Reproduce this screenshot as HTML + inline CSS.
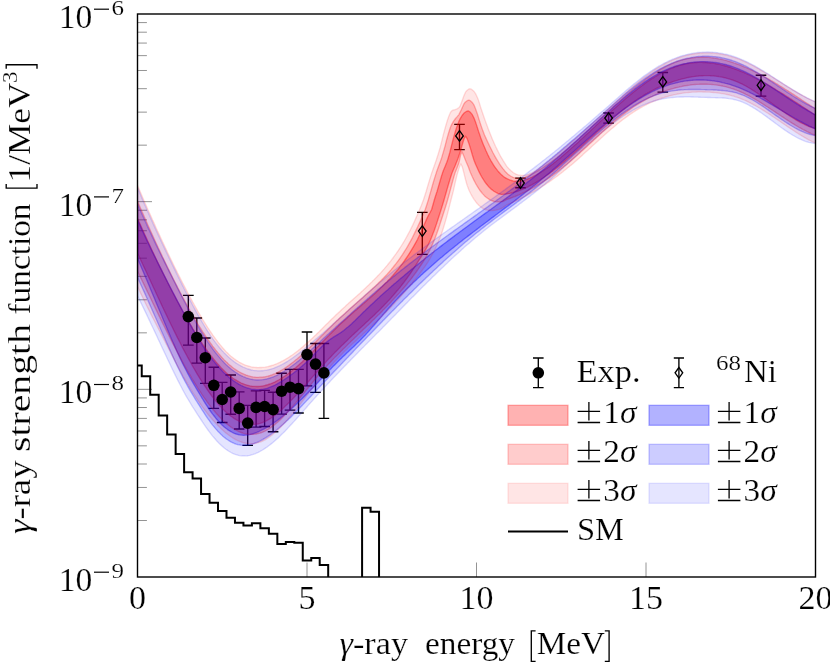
<!DOCTYPE html>
<html><head><meta charset="utf-8"><title>plot</title>
<style>html,body{margin:0;padding:0;background:#fff;}body{width:830px;height:663px;overflow:hidden;position:relative;font-family:"Liberation Serif",serif;}</style></head>
<body>
<svg width="830" height="663" viewBox="0 0 830 663" style="position:absolute;left:0;top:0">
<defs><clipPath id="cp"><rect x="137.5" y="14" width="678" height="563"/></clipPath></defs>
<rect x="0" y="0" width="830" height="663" fill="#fff"/>
<path d="M307.00,577 V562.5 M476.50,577 V562.5 M646.00,577 V562.5 M137.5,520.51 H146.9 M137.5,487.46 H146.9 M137.5,464.01 H146.9 M137.5,445.83 H146.9 M137.5,430.97 H146.9 M137.5,418.40 H146.9 M137.5,407.52 H146.9 M137.5,397.92 H146.9 M137.5,389.33 H152 M137.5,332.84 H146.9 M137.5,299.79 H146.9 M137.5,276.35 H146.9 M137.5,258.16 H146.9 M137.5,243.30 H146.9 M137.5,230.74 H146.9 M137.5,219.85 H146.9 M137.5,210.25 H146.9 M137.5,201.67 H152 M137.5,145.17 H146.9 M137.5,112.13 H146.9 M137.5,88.68 H146.9 M137.5,70.49 H146.9 M137.5,55.63 H146.9 M137.5,43.07 H146.9 M137.5,32.19 H146.9 M137.5,22.59 H146.9" stroke="#707070" stroke-width="0.75" fill="none"/>
<g clip-path="url(#cp)">
<path d="M188.3,295.4 V345.1 M183.0,295.4 H193.7 M183.0,345.1 H193.7" stroke="#000" stroke-width="1.35" fill="none"/>
<path d="M196.8,318.0 V363.1 M191.5,318.0 H202.1 M191.5,363.1 H202.1" stroke="#000" stroke-width="1.35" fill="none"/>
<path d="M205.3,338.0 V383.4 M200.0,338.0 H210.6 M200.0,383.4 H210.6" stroke="#000" stroke-width="1.35" fill="none"/>
<path d="M213.8,367.2 V408.3 M208.5,367.2 H219.1 M208.5,408.3 H219.1" stroke="#000" stroke-width="1.35" fill="none"/>
<path d="M222.2,382.4 V422.5 M216.9,382.4 H227.5 M216.9,422.5 H227.5" stroke="#000" stroke-width="1.35" fill="none"/>
<path d="M230.7,375.0 V414.2 M225.4,375.0 H236.0 M225.4,414.2 H236.0" stroke="#000" stroke-width="1.35" fill="none"/>
<path d="M239.2,391.8 V429.0 M233.9,391.8 H244.5 M233.9,429.0 H244.5" stroke="#000" stroke-width="1.35" fill="none"/>
<path d="M247.7,405.4 V445.4 M242.4,405.4 H253.0 M242.4,445.4 H253.0" stroke="#000" stroke-width="1.35" fill="none"/>
<path d="M256.1,390.8 V427.1 M250.8,390.8 H261.4 M250.8,427.1 H261.4" stroke="#000" stroke-width="1.35" fill="none"/>
<path d="M264.6,390.3 V426.5 M259.3,390.3 H269.9 M259.3,426.5 H269.9" stroke="#000" stroke-width="1.35" fill="none"/>
<path d="M273.1,392.2 V431.7 M267.8,392.2 H278.4 M267.8,431.7 H278.4" stroke="#000" stroke-width="1.35" fill="none"/>
<path d="M281.6,373.2 V414.1 M276.3,373.2 H286.9 M276.3,414.1 H286.9" stroke="#000" stroke-width="1.35" fill="none"/>
<path d="M290.0,369.4 V410.1 M284.7,369.4 H295.3 M284.7,410.1 H295.3" stroke="#000" stroke-width="1.35" fill="none"/>
<path d="M298.5,369.4 V413.0 M293.2,369.4 H303.8 M293.2,413.0 H303.8" stroke="#000" stroke-width="1.35" fill="none"/>
<path d="M307.0,332.0 V385.8 M301.7,332.0 H312.3 M301.7,385.8 H312.3" stroke="#000" stroke-width="1.35" fill="none"/>
<path d="M315.5,343.5 V392.3 M310.2,343.5 H320.8 M310.2,392.3 H320.8" stroke="#000" stroke-width="1.35" fill="none"/>
<path d="M323.9,343.5 V418.4 M318.6,343.5 H329.2 M318.6,418.4 H329.2" stroke="#000" stroke-width="1.35" fill="none"/>
<path d="M422.3,212.4 V254.4 M417.0,212.4 H427.6 M417.0,254.4 H427.6" stroke="#000" stroke-width="1.35" fill="none"/>
<path d="M459.5,124.3 V149.6 M454.2,124.3 H464.8 M454.2,149.6 H464.8" stroke="#000" stroke-width="1.35" fill="none"/>
<path d="M520.5,178.1 V187.7 M515.2,178.1 H525.8 M515.2,187.7 H525.8" stroke="#000" stroke-width="1.35" fill="none"/>
<path d="M608.6,113.0 V123.1 M603.3,113.0 H613.9 M603.3,123.1 H613.9" stroke="#000" stroke-width="1.35" fill="none"/>
<path d="M662.8,72.5 V92.1 M657.5,72.5 H668.1 M657.5,92.1 H668.1" stroke="#000" stroke-width="1.35" fill="none"/>
<path d="M761.0,75.2 V96.1 M755.7,75.2 H766.3 M755.7,96.1 H766.3" stroke="#000" stroke-width="1.35" fill="none"/>
<path d="M137.6,218.5 L139.3,222.3 L141.0,226.1 L142.6,229.7 L142.7,229.9 L144.4,233.7 L146.1,237.4 L147.6,240.7 L147.8,241.1 L149.5,244.8 L151.2,248.5 L152.6,251.5 L152.9,252.1 L154.6,255.8 L156.3,259.3 L157.6,262.1 L158.0,262.9 L159.7,266.4 L161.4,269.9 L162.6,272.4 L163.1,273.4 L164.8,276.8 L166.5,280.3 L167.6,282.5 L168.2,283.6 L169.9,287.0 L171.6,290.3 L172.6,292.3 L173.3,293.6 L175.0,296.8 L176.7,300.0 L177.6,301.8 L178.4,303.2 L180.1,306.3 L181.8,309.4 L182.6,310.9 L183.5,312.5 L185.2,315.5 L186.9,318.5 L187.6,319.8 L188.6,321.5 L190.3,324.4 L192.0,327.2 L192.6,328.3 L193.7,330.0 L195.4,332.8 L197.1,335.5 L197.6,336.4 L198.8,338.2 L200.5,340.8 L202.2,343.4 L202.6,344.0 L203.9,345.9 L205.6,348.3 L207.3,350.7 L207.6,351.2 L209.0,353.0 L210.7,355.3 L212.4,357.5 L212.6,357.8 L214.1,359.6 L215.8,361.7 L217.5,363.6 L217.6,363.8 L219.2,365.5 L220.9,367.4 L222.5,369.1 L222.6,369.2 L224.2,370.8 L225.9,372.4 L227.6,373.9 L227.6,373.9 L229.3,375.4 L231.0,376.7 L232.6,377.9 L232.7,378.0 L234.4,379.2 L236.1,380.2 L237.6,381.1 L237.8,381.2 L239.5,382.2 L241.2,383.0 L242.6,383.6 L242.9,383.7 L244.6,384.4 L246.3,384.9 L247.6,385.3 L248.0,385.4 L249.7,385.8 L251.4,386.1 L252.6,386.3 L253.1,386.3 L254.8,386.4 L256.5,386.5 L257.6,386.5 L258.2,386.5 L259.9,386.3 L261.6,386.1 L262.6,386.0 L263.3,385.9 L265.0,385.5 L266.7,385.0 L267.6,384.8 L268.4,384.5 L270.1,384.0 L271.8,383.3 L272.6,383.0 L273.5,382.6 L275.2,381.8 L276.9,380.9 L277.6,380.5 L278.6,380.0 L280.3,379.0 L282.0,377.9 L282.6,377.5 L283.7,376.8 L285.4,375.7 L287.1,374.4 L287.6,374.1 L288.8,373.2 L290.5,371.9 L292.2,370.5 L292.6,370.2 L293.9,369.1 L295.6,367.7 L297.3,366.2 L297.6,366.0 L299.0,364.8 L300.7,363.2 L302.4,361.7 L302.6,361.5 L304.1,360.1 L305.8,358.5 L307.5,356.8 L307.6,356.7 L309.2,355.2 L310.9,353.5 L312.6,351.8 L312.6,351.8 L314.3,350.1 L316.0,348.4 L317.6,346.8 L317.7,346.7 L319.4,345.0 L321.1,343.3 L322.6,341.7 L322.8,341.5 L324.5,339.8 L326.2,338.1 L327.6,336.6 L327.9,336.4 L329.6,334.6 L331.3,332.9 L332.6,331.6 L333.0,331.2 L334.7,329.6 L336.4,327.9 L337.6,326.7 L338.1,326.3 L339.8,324.6 L341.5,323.0 L342.6,322.0 L343.2,321.5 L344.9,319.9 L346.6,318.4 L347.6,317.4 L348.3,316.8 L350.0,315.3 L351.7,313.8 L352.6,313.0 L353.4,312.3 L355.1,310.8 L356.8,309.4 L357.6,308.6 L358.5,307.9 L360.2,306.4 L361.9,304.9 L362.6,304.3 L363.6,303.5 L365.3,302.0 L367.0,300.5 L367.6,299.9 L368.7,299.0 L370.4,297.5 L372.1,296.0 L372.6,295.5 L373.8,294.4 L375.5,292.9 L377.2,291.3 L377.6,290.9 L378.9,289.7 L380.6,288.1 L382.3,286.5 L382.6,286.2 L384.0,284.8 L385.7,283.1 L387.4,281.4 L387.6,281.1 L389.1,279.6 L390.8,277.8 L392.4,275.9 L392.6,275.7 L394.1,274.0 L395.8,272.0 L397.5,269.9 L397.6,269.9 L399.2,267.8 L400.9,265.6 L402.6,263.4 L402.6,263.3 L404.3,261.0 L406.0,258.5 L407.6,256.2 L407.7,256.0 L409.4,253.3 L411.1,250.6 L412.6,248.2 L412.8,247.8 L414.5,244.8 L416.2,241.8 L417.6,239.2 L417.9,238.5 L419.6,235.0 L421.3,231.2 L423.0,227.3 L424.7,223.4 L426.4,219.6 L428.1,216.0 L428.3,215.7 L429.8,213.0 L431.5,209.7 L431.7,209.3 L433.2,204.0 L434.3,200.0 L434.9,198.0 L436.6,192.7 L437.1,191.2 L438.3,187.1 L440.0,181.2 L441.7,175.5 L442.5,173.1 L443.4,170.6 L445.1,166.4 L446.8,162.2 L447.6,160.0 L448.5,157.1 L449.9,152.2 L450.2,151.0 L451.9,144.1 L452.9,140.2 L453.6,137.6 L455.3,131.6 L456.7,127.3 L457.0,126.4 L458.7,121.9 L460.4,118.3 L460.4,118.3 L462.1,115.5 L463.8,113.3 L464.2,113.0 L465.5,112.0 L467.2,111.1 L468.0,111.0 L468.9,111.2 L470.6,112.6 L472.1,114.4 L472.3,114.7 L474.0,118.1 L475.7,122.6 L476.0,123.4 L477.4,127.7 L478.5,131.3 L479.1,133.0 L480.8,137.9 L481.0,138.4 L482.5,142.4 L483.5,144.9 L484.2,146.6 L485.9,150.6 L486.0,150.8 L487.6,154.3 L488.5,156.1 L489.3,157.7 L491.0,160.8 L491.0,160.8 L492.7,163.7 L493.5,165.0 L494.4,166.3 L496.0,168.6 L496.1,168.7 L497.8,170.9 L498.5,171.7 L499.5,172.8 L501.0,174.4 L501.2,174.6 L502.9,176.1 L503.5,176.6 L504.6,177.3 L506.3,178.3 L507.0,178.7 L508.0,179.2 L509.7,179.9 L511.0,180.4 L511.4,180.5 L513.1,180.9 L514.8,181.1 L515.0,181.1 L516.5,181.1 L518.2,181.1 L519.0,181.1 L519.9,181.1 L521.6,180.8 L523.0,180.5 L523.3,180.4 L525.0,179.9 L526.7,179.4 L527.0,179.3 L528.4,178.7 L530.1,178.0 L531.0,177.6 L531.8,177.3 L533.5,176.4 L535.0,175.6 L535.2,175.5 L536.9,174.6 L538.6,173.6 L539.0,173.4 L540.3,172.6 L542.0,171.5 L543.0,170.9 L543.7,170.4 L545.4,169.3 L547.0,168.2 L547.1,168.1 L548.8,166.9 L550.5,165.6 L551.0,165.2 L552.2,164.4 L553.9,163.0 L555.0,162.1 L555.6,161.7 L557.3,160.3 L559.0,159.0 L559.0,158.9 L560.7,157.6 L562.3,156.1 L563.0,155.6 L564.0,154.7 L565.7,153.2 L567.0,152.1 L567.4,151.8 L569.1,150.3 L570.8,148.8 L571.0,148.6 L572.5,147.3 L574.2,145.7 L575.0,145.0 L575.9,144.2 L577.6,142.7 L579.0,141.4 L579.3,141.1 L581.0,139.5 L582.7,138.0 L583.0,137.7 L584.4,136.4 L586.1,134.8 L587.0,134.0 L587.8,133.2 L589.5,131.7 L591.0,130.3 L591.2,130.1 L592.9,128.5 L594.6,126.9 L595.0,126.5 L596.3,125.3 L598.0,123.7 L599.0,122.8 L599.7,122.1 L601.4,120.5 L603.0,119.1 L603.1,118.9 L604.8,117.4 L606.5,115.8 L607.0,115.3 L608.2,114.2 L609.9,112.7 L611.0,111.7 L611.6,111.1 L613.3,109.6 L615.0,108.0 L615.0,108.0 L616.7,106.5 L618.4,105.0 L619.0,104.5 L620.1,103.5 L621.8,102.0 L623.0,101.0 L623.5,100.5 L625.2,99.1 L626.9,97.6 L627.0,97.5 L628.6,96.2 L630.3,94.8 L631.0,94.2 L632.0,93.4 L633.7,92.0 L635.0,91.0 L635.4,90.7 L637.1,89.3 L638.8,88.0 L639.0,87.9 L640.5,86.7 L642.2,85.5 L643.0,84.9 L643.9,84.2 L645.6,83.0 L647.0,82.0 L647.3,81.8 L649.0,80.7 L650.7,79.5 L651.0,79.3 L652.4,78.4 L654.1,77.4 L655.0,76.8 L655.8,76.3 L657.5,75.3 L659.0,74.4 L659.2,74.3 L660.9,73.4 L662.6,72.5 L663.0,72.3 L664.3,71.6 L666.0,70.8 L667.0,70.3 L667.7,70.0 L669.4,69.2 L671.0,68.5 L671.1,68.5 L672.8,67.8 L674.5,67.1 L675.0,66.9 L676.2,66.5 L677.9,66.0 L679.0,65.6 L679.6,65.4 L681.3,65.0 L683.0,64.5 L683.0,64.5 L684.7,64.1 L686.4,63.8 L687.0,63.7 L688.1,63.5 L689.8,63.2 L691.0,63.0 L691.5,63.0 L693.2,62.8 L694.9,62.6 L695.0,62.6 L696.6,62.5 L698.3,62.4 L699.0,62.4 L700.0,62.4 L701.7,62.4 L703.0,62.5 L703.4,62.5 L705.1,62.5 L706.8,62.7 L707.0,62.7 L708.5,62.8 L710.2,63.0 L711.0,63.1 L711.9,63.2 L713.6,63.4 L715.0,63.7 L715.3,63.7 L717.0,64.0 L718.7,64.4 L719.0,64.4 L720.4,64.7 L722.1,65.1 L723.0,65.4 L723.8,65.5 L725.5,66.0 L727.0,66.4 L727.2,66.5 L728.9,67.0 L730.6,67.5 L731.0,67.7 L732.2,68.1 L733.9,68.7 L735.0,69.1 L735.6,69.3 L737.3,69.9 L739.0,70.6 L739.0,70.6 L740.7,71.3 L742.4,72.0 L743.0,72.2 L744.1,72.7 L745.8,73.5 L747.0,74.0 L747.5,74.3 L749.2,75.0 L750.9,75.9 L751.0,75.9 L752.6,76.7 L754.3,77.5 L755.0,77.9 L756.0,78.4 L757.7,79.3 L759.0,80.0 L759.4,80.2 L761.1,81.1 L762.8,82.0 L763.0,82.1 L764.5,83.0 L766.2,83.9 L767.0,84.4 L767.9,84.9 L769.6,85.9 L771.0,86.7 L771.3,86.9 L773.0,87.9 L774.7,88.9 L775.0,89.1 L776.4,90.0 L778.1,91.0 L779.0,91.5 L779.8,92.0 L781.5,93.1 L783.0,94.0 L783.2,94.2 L784.9,95.2 L786.6,96.3 L787.0,96.6 L788.3,97.4 L790.0,98.5 L791.0,99.1 L791.7,99.6 L793.4,100.7 L795.0,101.7 L795.1,101.8 L796.8,102.9 L798.5,104.0 L799.0,104.4 L800.2,105.1 L801.9,106.3 L803.0,107.0 L803.6,107.4 L805.3,108.5 L807.0,109.6 L807.0,109.6 L808.7,110.7 L810.4,111.8 L811.0,112.2 L812.1,113.0 L813.8,114.1 L815.0,114.8 L815.5,115.2 L815.5,128.7 L815.0,128.6 L813.8,128.2 L812.1,127.6 L811.0,127.2 L810.4,127.0 L808.7,126.4 L807.0,125.6 L807.0,125.6 L805.3,124.9 L803.6,124.0 L803.0,123.7 L801.9,123.2 L800.2,122.3 L799.0,121.6 L798.5,121.3 L796.8,120.4 L795.1,119.4 L795.0,119.3 L793.4,118.3 L791.7,117.2 L791.0,116.8 L790.0,116.1 L788.3,115.0 L787.0,114.1 L786.6,113.9 L784.9,112.7 L783.2,111.5 L783.0,111.4 L781.5,110.3 L779.8,109.1 L779.0,108.5 L778.1,107.9 L776.4,106.7 L775.0,105.7 L774.7,105.5 L773.0,104.2 L771.3,103.0 L771.0,102.7 L769.6,101.8 L767.9,100.5 L767.0,99.9 L766.2,99.3 L764.5,98.1 L763.0,97.0 L762.8,96.9 L761.1,95.7 L759.4,94.5 L759.0,94.2 L757.7,93.4 L756.0,92.3 L755.0,91.6 L754.3,91.1 L752.6,90.1 L751.0,89.0 L750.9,89.0 L749.2,88.0 L747.5,87.0 L747.0,86.7 L745.8,86.0 L744.1,85.1 L743.0,84.5 L742.4,84.2 L740.7,83.4 L739.0,82.6 L739.0,82.6 L737.3,81.9 L735.6,81.2 L735.0,80.9 L733.9,80.5 L732.2,79.9 L731.0,79.5 L730.6,79.3 L728.9,78.8 L727.2,78.3 L727.0,78.3 L725.5,77.9 L723.8,77.5 L723.0,77.3 L722.1,77.1 L720.4,76.8 L719.0,76.6 L718.7,76.5 L717.0,76.3 L715.3,76.1 L715.0,76.1 L713.6,75.9 L711.9,75.8 L711.0,75.7 L710.2,75.7 L708.5,75.6 L707.0,75.6 L706.8,75.6 L705.1,75.6 L703.4,75.7 L703.0,75.7 L701.7,75.7 L700.0,75.9 L699.0,75.9 L698.3,76.0 L696.6,76.2 L695.0,76.4 L694.9,76.4 L693.2,76.6 L691.5,76.9 L691.0,77.0 L689.8,77.2 L688.1,77.5 L687.0,77.7 L686.4,77.9 L684.7,78.3 L683.0,78.7 L683.0,78.7 L681.3,79.1 L679.6,79.6 L679.0,79.7 L677.9,80.1 L676.2,80.6 L675.0,80.9 L674.5,81.1 L672.8,81.7 L671.1,82.3 L671.0,82.3 L669.4,82.9 L667.7,83.5 L667.0,83.8 L666.0,84.2 L664.3,84.9 L663.0,85.4 L662.6,85.6 L660.9,86.3 L659.2,87.1 L659.0,87.2 L657.5,87.9 L655.8,88.7 L655.0,89.1 L654.1,89.6 L652.4,90.5 L651.0,91.2 L650.7,91.4 L649.0,92.3 L647.3,93.2 L647.0,93.4 L645.6,94.2 L643.9,95.2 L643.0,95.8 L642.2,96.3 L640.5,97.3 L639.0,98.3 L638.8,98.4 L637.1,99.5 L635.4,100.7 L635.0,100.9 L633.7,101.8 L632.0,103.0 L631.0,103.7 L630.3,104.2 L628.6,105.5 L627.0,106.7 L626.9,106.7 L625.2,108.0 L623.5,109.4 L623.0,109.8 L621.8,110.7 L620.1,112.1 L619.0,113.0 L618.4,113.5 L616.7,114.9 L615.0,116.3 L615.0,116.3 L613.3,117.7 L611.6,119.2 L611.0,119.7 L609.9,120.7 L608.2,122.1 L607.0,123.2 L606.5,123.6 L604.8,125.2 L603.1,126.7 L603.0,126.8 L601.4,128.2 L599.7,129.7 L599.0,130.4 L598.0,131.3 L596.3,132.8 L595.0,134.1 L594.6,134.4 L592.9,135.9 L591.2,137.5 L591.0,137.7 L589.5,139.1 L587.8,140.6 L587.0,141.4 L586.1,142.2 L584.4,143.8 L583.0,145.1 L582.7,145.3 L581.0,146.9 L579.3,148.4 L579.0,148.7 L577.6,149.9 L575.9,151.5 L575.0,152.3 L574.2,153.0 L572.5,154.5 L571.0,155.9 L570.8,156.0 L569.1,157.5 L567.4,159.0 L567.0,159.3 L565.7,160.4 L564.0,161.9 L563.0,162.7 L562.3,163.3 L560.7,164.7 L559.0,166.0 L559.0,166.1 L557.3,167.4 L555.6,168.8 L555.0,169.2 L553.9,170.1 L552.2,171.4 L551.0,172.3 L550.5,172.7 L548.8,173.9 L547.1,175.1 L547.0,175.2 L545.4,176.3 L543.7,177.5 L543.0,178.0 L542.0,178.6 L540.3,179.8 L539.0,180.6 L538.6,180.8 L536.9,181.9 L535.2,182.9 L535.0,183.0 L533.5,183.9 L531.8,184.8 L531.0,185.2 L530.1,185.7 L528.4,186.6 L527.0,187.3 L526.7,187.4 L525.0,188.2 L523.3,189.0 L523.0,189.1 L521.6,189.7 L519.9,190.3 L519.0,190.7 L518.2,191.0 L516.5,191.5 L515.0,192.0 L514.8,192.1 L513.1,192.6 L511.4,193.0 L511.0,193.1 L509.7,193.4 L508.0,193.7 L507.0,193.9 L506.3,194.0 L504.6,194.2 L502.9,194.3 L501.5,194.4 L501.2,194.4 L499.5,193.9 L499.0,193.8 L497.8,193.3 L496.5,192.7 L496.1,192.5 L494.4,191.5 L494.0,191.3 L492.7,190.3 L491.5,189.4 L491.0,188.9 L489.3,187.3 L489.0,187.0 L487.6,185.4 L486.5,184.0 L485.9,183.3 L484.2,180.8 L484.0,180.5 L482.5,178.2 L481.5,176.5 L480.8,175.2 L479.1,171.9 L479.0,171.7 L477.4,168.3 L476.5,166.3 L475.7,164.5 L474.0,160.2 L474.0,160.2 L472.3,154.8 L470.6,148.9 L470.0,147.0 L468.9,143.4 L467.2,138.7 L467.1,138.5 L465.5,136.2 L465.5,136.2 L464.2,138.5 L463.8,139.5 L462.6,143.5 L462.1,145.2 L460.5,151.0 L460.4,151.3 L458.7,156.5 L458.0,158.5 L457.0,161.1 L455.3,165.2 L455.0,166.0 L453.6,169.2 L452.0,173.1 L451.9,173.3 L450.2,178.5 L448.5,184.2 L446.8,190.1 L446.5,191.2 L445.1,196.1 L444.0,200.0 L443.4,202.0 L441.7,207.6 L440.3,212.1 L440.0,213.0 L438.3,218.3 L436.6,223.6 L434.9,228.5 L434.3,230.2 L433.2,233.0 L431.5,237.4 L429.8,241.4 L428.3,244.6 L428.1,244.9 L426.4,248.2 L424.7,251.1 L423.0,253.9 L421.3,256.6 L419.6,259.2 L417.9,261.9 L417.6,262.4 L416.2,264.6 L414.5,267.3 L412.8,269.8 L412.6,270.2 L411.1,272.4 L409.4,274.8 L407.7,277.2 L407.6,277.4 L406.0,279.5 L404.3,281.8 L402.6,284.0 L402.6,284.0 L400.9,286.2 L399.2,288.3 L397.6,290.3 L397.5,290.3 L395.8,292.3 L394.1,294.3 L392.6,296.1 L392.4,296.2 L390.8,298.1 L389.1,300.0 L387.6,301.5 L387.4,301.8 L385.7,303.6 L384.0,305.3 L382.6,306.7 L382.3,307.1 L380.6,308.8 L378.9,310.4 L377.6,311.7 L377.2,312.1 L375.5,313.7 L373.8,315.4 L372.6,316.5 L372.1,317.0 L370.4,318.6 L368.7,320.2 L367.6,321.2 L367.0,321.7 L365.3,323.3 L363.6,324.9 L362.6,325.8 L361.9,326.5 L360.2,328.1 L358.5,329.6 L357.6,330.5 L356.8,331.2 L355.1,332.8 L353.4,334.4 L352.6,335.1 L351.7,336.0 L350.0,337.6 L348.3,339.2 L347.6,339.9 L346.6,340.9 L344.9,342.5 L343.2,344.2 L342.6,344.7 L341.5,345.8 L339.8,347.5 L338.1,349.2 L337.6,349.7 L336.4,350.9 L334.7,352.6 L333.0,354.4 L332.6,354.8 L331.3,356.2 L329.6,358.0 L327.9,359.8 L327.6,360.1 L326.2,361.6 L324.5,363.5 L322.8,365.4 L322.6,365.6 L321.1,367.2 L319.4,369.1 L317.7,371.1 L317.6,371.2 L316.0,373.0 L314.3,374.9 L312.6,376.8 L312.6,376.8 L310.9,378.7 L309.2,380.7 L307.6,382.5 L307.5,382.6 L305.8,384.5 L304.1,386.4 L302.6,388.1 L302.4,388.3 L300.7,390.2 L299.0,392.0 L297.6,393.6 L297.3,393.9 L295.6,395.7 L293.9,397.5 L292.6,398.9 L292.2,399.3 L290.5,401.1 L288.8,402.8 L287.6,404.0 L287.1,404.5 L285.4,406.1 L283.7,407.8 L282.6,408.8 L282.0,409.3 L280.3,410.9 L278.6,412.3 L277.6,413.2 L276.9,413.7 L275.2,415.1 L273.5,416.3 L272.6,417.0 L271.8,417.5 L270.1,418.7 L268.4,419.7 L267.6,420.1 L266.7,420.6 L265.0,421.5 L263.3,422.2 L262.6,422.5 L261.6,422.9 L259.9,423.4 L258.2,423.8 L257.6,424.0 L256.5,424.1 L254.8,424.3 L253.1,424.4 L252.6,424.4 L251.4,424.4 L249.7,424.3 L248.0,424.1 L247.6,424.0 L246.3,423.8 L244.6,423.3 L242.9,422.8 L242.6,422.7 L241.2,422.1 L239.5,421.4 L237.8,420.5 L237.6,420.4 L236.1,419.6 L234.4,418.6 L232.7,417.4 L232.6,417.3 L231.0,416.2 L229.3,414.9 L227.6,413.5 L227.6,413.4 L225.9,412.0 L224.2,410.4 L222.6,408.7 L222.5,408.7 L220.9,406.9 L219.2,405.1 L217.6,403.3 L217.5,403.1 L215.8,401.1 L214.1,399.0 L212.6,397.1 L212.4,396.8 L210.7,394.5 L209.0,392.2 L207.6,390.2 L207.3,389.7 L205.6,387.2 L203.9,384.7 L202.6,382.7 L202.2,382.1 L200.5,379.4 L198.8,376.6 L197.6,374.7 L197.1,373.8 L195.4,370.9 L193.7,368.0 L192.6,366.1 L192.0,365.0 L190.3,362.0 L188.6,358.9 L187.6,357.1 L186.9,355.8 L185.2,352.6 L183.5,349.4 L182.6,347.7 L181.8,346.1 L180.1,342.8 L178.4,339.4 L177.6,337.9 L176.7,336.1 L175.0,332.6 L173.3,329.2 L172.6,327.8 L171.6,325.7 L169.9,322.2 L168.2,318.7 L167.6,317.5 L166.5,315.1 L164.8,311.6 L163.1,308.0 L162.6,307.0 L161.4,304.4 L159.7,300.8 L158.0,297.1 L157.6,296.3 L156.3,293.5 L154.6,289.8 L152.9,286.2 L152.6,285.5 L151.2,282.5 L149.5,278.8 L147.8,275.2 L147.6,274.8 L146.1,271.5 L144.4,267.9 L142.7,264.2 L142.6,264.0 L141.0,260.6 L139.3,256.9 L137.6,253.3 Z" fill="#ff0000" stroke="#ff0000" stroke-width="1.35" fill-opacity="0.3" stroke-opacity="0.404" stroke-linejoin="round"/>
<path d="M137.6,219.9 L139.3,223.8 L141.0,227.6 L142.6,231.2 L142.7,231.4 L144.4,235.1 L146.1,238.8 L147.6,242.0 L147.8,242.4 L149.5,245.9 L151.2,249.5 L152.6,252.4 L152.9,252.9 L154.6,256.4 L156.3,259.8 L157.6,262.4 L158.0,263.2 L159.7,266.6 L161.4,269.9 L162.6,272.3 L163.1,273.3 L164.8,276.6 L166.5,279.9 L167.6,282.0 L168.2,283.2 L169.9,286.5 L171.6,289.8 L172.6,291.7 L173.3,293.0 L175.0,296.3 L176.7,299.6 L177.6,301.3 L178.4,302.8 L180.1,306.1 L181.8,309.3 L182.6,310.8 L183.5,312.4 L185.2,315.6 L186.9,318.7 L187.6,320.1 L188.6,321.8 L190.3,324.9 L192.0,327.9 L192.6,329.0 L193.7,330.9 L195.4,333.8 L197.1,336.6 L197.6,337.5 L198.8,339.4 L200.5,342.2 L202.2,344.9 L202.6,345.6 L203.9,347.5 L205.6,350.1 L207.3,352.5 L207.6,353.0 L209.0,354.9 L210.7,357.3 L212.4,359.5 L212.6,359.8 L214.1,361.7 L215.8,363.8 L217.5,365.8 L217.6,365.9 L219.2,367.7 L220.9,369.5 L222.5,371.3 L222.6,371.4 L224.2,373.0 L225.9,374.6 L227.6,376.1 L227.6,376.1 L229.3,377.6 L231.0,378.9 L232.6,380.1 L232.7,380.2 L234.4,381.4 L236.1,382.5 L237.6,383.4 L237.8,383.6 L239.5,384.6 L241.2,385.5 L242.6,386.1 L242.9,386.3 L244.6,387.0 L246.3,387.7 L247.6,388.1 L248.0,388.2 L249.7,388.7 L251.4,389.1 L252.6,389.3 L253.1,389.3 L254.8,389.5 L256.5,389.7 L257.6,389.7 L258.2,389.7 L259.9,389.6 L261.6,389.4 L262.6,389.3 L263.3,389.2 L265.0,388.8 L266.7,388.4 L267.6,388.1 L268.4,387.8 L270.1,387.2 L271.8,386.5 L272.6,386.2 L273.5,385.8 L275.2,385.0 L276.9,384.1 L277.6,383.7 L278.6,383.2 L280.3,382.2 L282.0,381.1 L282.6,380.7 L283.7,380.0 L285.4,378.9 L287.1,377.7 L287.6,377.4 L288.8,376.5 L290.5,375.3 L292.2,374.0 L292.6,373.7 L293.9,372.7 L295.6,371.4 L297.3,370.1 L297.6,369.8 L299.0,368.7 L300.7,367.2 L302.4,365.8 L302.6,365.6 L304.1,364.3 L305.8,362.7 L307.5,361.1 L307.6,361.0 L309.2,359.5 L310.9,357.8 L312.6,356.0 L312.6,356.0 L314.3,354.3 L316.0,352.5 L317.6,350.8 L317.7,350.8 L319.4,349.0 L321.1,347.3 L322.6,345.8 L322.8,345.6 L324.5,344.0 L326.2,342.5 L327.6,341.3 L327.9,341.1 L329.6,339.8 L331.3,338.6 L332.6,337.7 L333.0,337.4 L334.7,336.4 L336.4,335.4 L337.6,334.6 L338.1,334.3 L339.8,333.2 L341.5,332.1 L342.6,331.3 L343.2,330.9 L344.9,329.5 L346.6,328.1 L347.6,327.3 L348.3,326.7 L350.0,325.2 L351.7,323.7 L352.6,322.8 L353.4,322.1 L355.1,320.5 L356.8,318.8 L357.6,318.0 L358.5,317.1 L360.2,315.5 L361.9,313.8 L362.6,313.1 L363.6,312.1 L365.3,310.5 L367.0,308.8 L367.6,308.2 L368.7,307.2 L370.4,305.6 L372.1,304.0 L372.6,303.5 L373.8,302.4 L375.5,300.8 L377.2,299.2 L377.6,298.8 L378.9,297.7 L380.6,296.1 L382.3,294.6 L382.6,294.3 L384.0,293.1 L385.7,291.6 L387.4,290.1 L387.6,289.9 L389.1,288.6 L390.8,287.1 L392.4,285.6 L392.6,285.5 L394.1,284.1 L395.8,282.7 L397.5,281.2 L397.6,281.2 L399.2,279.8 L400.9,278.3 L402.6,276.9 L402.6,276.9 L404.3,275.5 L406.0,274.0 L407.6,272.8 L407.7,272.6 L409.4,271.2 L411.1,269.8 L412.6,268.6 L412.8,268.4 L414.5,267.0 L416.2,265.7 L417.6,264.6 L417.9,264.3 L419.6,262.9 L421.3,261.5 L422.6,260.5 L423.0,260.2 L424.7,258.8 L426.4,257.5 L427.6,256.6 L428.1,256.1 L429.8,254.8 L431.5,253.5 L432.6,252.6 L433.2,252.2 L434.9,250.8 L436.6,249.5 L437.6,248.8 L438.3,248.2 L440.0,246.9 L441.7,245.6 L442.6,244.9 L443.4,244.3 L445.1,243.0 L446.8,241.7 L447.6,241.1 L448.5,240.4 L450.2,239.1 L451.9,237.9 L452.6,237.3 L453.6,236.6 L455.3,235.3 L457.0,234.0 L457.6,233.6 L458.7,232.8 L460.4,231.5 L462.1,230.3 L462.6,229.9 L463.8,229.0 L465.5,227.7 L467.2,226.5 L467.6,226.2 L468.9,225.2 L470.6,224.0 L472.3,222.8 L472.6,222.5 L474.0,221.5 L475.7,220.3 L477.4,219.0 L477.6,218.9 L479.1,217.8 L480.8,216.6 L482.5,215.3 L482.6,215.3 L484.2,214.1 L485.9,212.9 L487.6,211.7 L487.6,211.7 L489.3,210.4 L491.0,209.2 L492.6,208.0 L492.7,208.0 L494.4,206.7 L496.1,205.5 L497.6,204.4 L497.8,204.3 L499.5,203.1 L501.2,201.8 L502.6,200.8 L502.9,200.6 L504.6,199.3 L506.3,198.1 L507.6,197.1 L508.0,196.9 L509.7,195.6 L511.4,194.4 L512.6,193.5 L513.1,193.1 L514.8,191.8 L516.5,190.6 L517.6,189.7 L518.2,189.3 L519.9,188.0 L521.6,186.7 L522.6,186.0 L523.3,185.5 L525.0,184.2 L526.7,182.9 L527.6,182.1 L528.4,181.5 L530.1,180.2 L531.8,178.9 L532.6,178.2 L533.5,177.6 L535.2,176.2 L536.9,174.9 L537.6,174.3 L538.6,173.5 L540.3,172.1 L542.0,170.8 L542.6,170.2 L543.7,169.4 L545.4,168.0 L547.1,166.6 L547.6,166.1 L548.8,165.1 L550.5,163.7 L552.2,162.3 L552.6,161.9 L553.9,160.8 L555.6,159.3 L557.3,157.9 L557.6,157.6 L559.0,156.4 L560.7,154.9 L562.3,153.4 L562.6,153.2 L564.0,151.9 L565.7,150.4 L567.4,148.9 L567.6,148.8 L569.1,147.4 L570.8,145.8 L572.5,144.3 L572.6,144.3 L574.2,142.8 L575.9,141.2 L577.6,139.7 L577.6,139.7 L579.3,138.2 L581.0,136.6 L582.6,135.2 L582.7,135.1 L584.4,133.5 L586.1,132.0 L587.6,130.6 L587.8,130.4 L589.5,128.9 L591.2,127.3 L592.6,126.1 L592.9,125.8 L594.6,124.2 L596.3,122.7 L597.6,121.5 L598.0,121.1 L599.7,119.6 L601.4,118.0 L602.6,117.0 L603.1,116.5 L604.8,115.0 L606.5,113.4 L607.6,112.5 L608.2,111.9 L609.9,110.4 L611.6,108.9 L612.6,108.0 L613.3,107.3 L615.0,105.8 L616.7,104.3 L617.6,103.6 L618.4,102.9 L620.1,101.4 L621.8,99.9 L622.6,99.3 L623.5,98.5 L625.2,97.1 L626.9,95.6 L627.6,95.1 L628.6,94.2 L630.3,92.9 L632.0,91.5 L632.6,91.0 L633.7,90.2 L635.4,88.8 L637.1,87.5 L637.6,87.2 L638.8,86.3 L640.5,85.0 L642.2,83.8 L642.6,83.5 L643.9,82.6 L645.6,81.4 L647.3,80.3 L647.6,80.1 L649.0,79.1 L650.7,78.1 L652.4,77.0 L652.6,76.9 L654.1,76.0 L655.8,75.0 L657.5,74.1 L657.6,74.0 L659.2,73.1 L660.9,72.3 L662.6,71.4 L662.6,71.4 L664.3,70.6 L666.0,69.8 L667.6,69.1 L667.7,69.1 L669.4,68.4 L671.1,67.7 L672.6,67.2 L672.8,67.1 L674.5,66.5 L676.2,65.9 L677.6,65.5 L677.9,65.4 L679.6,64.9 L681.3,64.4 L682.6,64.1 L683.0,64.0 L684.7,63.6 L686.4,63.3 L687.6,63.0 L688.1,63.0 L689.8,62.7 L691.5,62.4 L692.6,62.3 L693.2,62.2 L694.9,62.0 L696.6,61.9 L697.6,61.8 L698.3,61.8 L700.0,61.7 L701.7,61.6 L702.6,61.6 L703.4,61.6 L705.1,61.7 L706.8,61.7 L707.6,61.7 L708.5,61.8 L710.2,61.9 L711.9,62.1 L712.6,62.1 L713.6,62.3 L715.3,62.5 L717.0,62.7 L717.6,62.8 L718.7,63.0 L720.4,63.4 L722.1,63.7 L722.6,63.8 L723.8,64.1 L725.5,64.5 L727.2,65.0 L727.6,65.1 L728.9,65.5 L730.6,66.0 L732.2,66.6 L732.6,66.7 L733.9,67.2 L735.6,67.8 L737.3,68.4 L737.6,68.5 L739.0,69.1 L740.7,69.9 L742.4,70.6 L742.6,70.7 L744.1,71.4 L745.8,72.2 L747.5,73.1 L747.6,73.1 L749.2,73.9 L750.9,74.8 L752.6,75.7 L752.6,75.8 L754.3,76.7 L756.0,77.7 L757.6,78.6 L757.7,78.7 L759.4,79.7 L761.1,80.7 L762.6,81.6 L762.8,81.7 L764.5,82.8 L766.2,83.9 L767.6,84.7 L767.9,85.0 L769.6,86.0 L771.3,87.1 L772.6,88.0 L773.0,88.3 L774.7,89.4 L776.4,90.5 L777.6,91.3 L778.1,91.6 L779.8,92.8 L781.5,93.9 L782.6,94.6 L783.2,95.0 L784.9,96.2 L786.6,97.3 L787.6,97.9 L788.3,98.4 L790.0,99.5 L791.7,100.7 L792.6,101.2 L793.4,101.8 L795.1,102.9 L796.8,104.0 L797.6,104.5 L798.5,105.0 L800.2,106.1 L801.9,107.2 L802.6,107.6 L803.6,108.2 L805.3,109.2 L807.0,110.2 L807.6,110.6 L808.7,111.2 L810.4,112.1 L812.1,113.1 L812.6,113.4 L813.8,114.0 L815.5,114.9 L815.5,128.9 L813.8,128.2 L812.6,127.6 L812.1,127.4 L810.4,126.6 L808.7,125.8 L807.6,125.2 L807.0,124.9 L805.3,124.0 L803.6,123.2 L802.6,122.6 L801.9,122.2 L800.2,121.3 L798.5,120.4 L797.6,119.9 L796.8,119.4 L795.1,118.5 L793.4,117.5 L792.6,117.0 L791.7,116.5 L790.0,115.5 L788.3,114.5 L787.6,114.1 L786.6,113.5 L784.9,112.5 L783.2,111.5 L782.6,111.1 L781.5,110.5 L779.8,109.5 L778.1,108.4 L777.6,108.1 L776.4,107.4 L774.7,106.4 L773.0,105.4 L772.6,105.1 L771.3,104.4 L769.6,103.4 L767.9,102.4 L767.6,102.2 L766.2,101.4 L764.5,100.4 L762.8,99.4 L762.6,99.3 L761.1,98.5 L759.4,97.5 L757.7,96.6 L757.6,96.5 L756.0,95.7 L754.3,94.8 L752.6,93.9 L752.6,93.9 L750.9,93.1 L749.2,92.2 L747.6,91.5 L747.5,91.4 L745.8,90.6 L744.1,89.9 L742.6,89.2 L742.4,89.1 L740.7,88.4 L739.0,87.7 L737.6,87.2 L737.3,87.1 L735.6,86.4 L733.9,85.8 L732.6,85.4 L732.2,85.3 L730.6,84.7 L728.9,84.2 L727.6,83.9 L727.2,83.7 L725.5,83.3 L723.8,82.8 L722.6,82.6 L722.1,82.5 L720.4,82.1 L718.7,81.7 L717.6,81.5 L717.0,81.4 L715.3,81.2 L713.6,80.9 L712.6,80.8 L711.9,80.7 L710.2,80.5 L708.5,80.3 L707.6,80.2 L706.8,80.2 L705.1,80.1 L703.4,80.0 L702.6,80.0 L701.7,80.0 L700.0,80.0 L698.3,80.0 L697.6,80.0 L696.6,80.0 L694.9,80.1 L693.2,80.2 L692.6,80.2 L691.5,80.3 L689.8,80.5 L688.1,80.7 L687.6,80.7 L686.4,80.9 L684.7,81.1 L683.0,81.4 L682.6,81.5 L681.3,81.7 L679.6,82.1 L677.9,82.4 L677.6,82.5 L676.2,82.8 L674.5,83.3 L672.8,83.7 L672.6,83.8 L671.1,84.2 L669.4,84.7 L667.7,85.3 L667.6,85.3 L666.0,85.9 L664.3,86.5 L662.6,87.1 L662.6,87.1 L660.9,87.8 L659.2,88.5 L657.6,89.2 L657.5,89.3 L655.8,90.0 L654.1,90.8 L652.6,91.5 L652.4,91.6 L650.7,92.5 L649.0,93.4 L647.6,94.1 L647.3,94.3 L645.6,95.2 L643.9,96.2 L642.6,97.0 L642.2,97.2 L640.5,98.2 L638.8,99.2 L637.6,100.0 L637.1,100.3 L635.4,101.4 L633.7,102.5 L632.6,103.2 L632.0,103.6 L630.3,104.8 L628.6,106.0 L627.6,106.7 L626.9,107.2 L625.2,108.4 L623.5,109.6 L622.6,110.3 L621.8,110.9 L620.1,112.2 L618.4,113.4 L617.6,114.1 L616.7,114.8 L615.0,116.1 L613.3,117.4 L612.6,118.0 L611.6,118.8 L609.9,120.1 L608.2,121.5 L607.6,122.0 L606.5,122.9 L604.8,124.3 L603.1,125.7 L602.6,126.2 L601.4,127.2 L599.7,128.6 L598.0,130.0 L597.6,130.4 L596.3,131.5 L594.6,133.0 L592.9,134.4 L592.6,134.7 L591.2,135.9 L589.5,137.4 L587.8,138.9 L587.6,139.1 L586.1,140.4 L584.4,141.9 L582.7,143.4 L582.6,143.5 L581.0,144.9 L579.3,146.4 L577.6,147.9 L577.6,148.0 L575.9,149.4 L574.2,151.0 L572.6,152.4 L572.5,152.5 L570.8,154.0 L569.1,155.5 L567.6,156.9 L567.4,157.0 L565.7,158.5 L564.0,160.0 L562.6,161.3 L562.3,161.5 L560.7,163.0 L559.0,164.5 L557.6,165.7 L557.3,166.0 L555.6,167.5 L553.9,169.0 L552.6,170.1 L552.2,170.5 L550.5,171.9 L548.8,173.4 L547.6,174.4 L547.1,174.8 L545.4,176.3 L543.7,177.7 L542.6,178.6 L542.0,179.1 L540.3,180.5 L538.6,181.9 L537.6,182.7 L536.9,183.3 L535.2,184.7 L533.5,186.0 L532.6,186.7 L531.8,187.4 L530.1,188.8 L528.4,190.1 L527.6,190.7 L526.7,191.5 L525.0,192.8 L523.3,194.1 L522.6,194.6 L521.6,195.4 L519.9,196.8 L518.2,198.1 L517.6,198.5 L516.5,199.4 L514.8,200.7 L513.1,202.0 L512.6,202.4 L511.4,203.3 L509.7,204.6 L508.0,205.9 L507.6,206.2 L506.3,207.1 L504.6,208.4 L502.9,209.7 L502.6,209.9 L501.2,211.0 L499.5,212.3 L497.8,213.5 L497.6,213.7 L496.1,214.8 L494.4,216.1 L492.7,217.4 L492.6,217.4 L491.0,218.6 L489.3,219.9 L487.6,221.2 L487.6,221.2 L485.9,222.5 L484.2,223.8 L482.6,225.0 L482.5,225.0 L480.8,226.3 L479.1,227.6 L477.6,228.7 L477.4,228.9 L475.7,230.2 L474.0,231.5 L472.6,232.5 L472.3,232.8 L470.6,234.1 L468.9,235.4 L467.6,236.4 L467.2,236.7 L465.5,238.0 L463.8,239.3 L462.6,240.3 L462.1,240.7 L460.4,242.0 L458.7,243.3 L457.6,244.2 L457.0,244.7 L455.3,246.0 L453.6,247.4 L452.6,248.2 L451.9,248.8 L450.2,250.1 L448.5,251.5 L447.6,252.3 L446.8,252.9 L445.1,254.3 L443.4,255.7 L442.6,256.4 L441.7,257.2 L440.0,258.6 L438.3,260.0 L437.6,260.6 L436.6,261.5 L434.9,262.9 L433.2,264.4 L432.6,265.0 L431.5,265.9 L429.8,267.4 L428.1,268.9 L427.6,269.4 L426.4,270.4 L424.7,272.0 L423.0,273.5 L422.6,273.9 L421.3,275.1 L419.6,276.7 L417.9,278.3 L417.6,278.6 L416.2,279.9 L414.5,281.5 L412.8,283.1 L412.6,283.4 L411.1,284.8 L409.4,286.5 L407.7,288.1 L407.6,288.3 L406.0,289.8 L404.3,291.6 L402.6,293.3 L402.6,293.3 L400.9,295.0 L399.2,296.8 L397.6,298.5 L397.5,298.6 L395.8,300.4 L394.1,302.2 L392.6,303.9 L392.4,304.1 L390.8,306.0 L389.1,307.8 L387.6,309.5 L387.4,309.7 L385.7,311.7 L384.0,313.6 L382.6,315.2 L382.3,315.6 L380.6,317.6 L378.9,319.5 L377.6,321.0 L377.2,321.5 L375.5,323.5 L373.8,325.5 L372.6,326.8 L372.1,327.4 L370.4,329.4 L368.7,331.3 L367.6,332.4 L367.0,333.1 L365.3,335.0 L363.6,336.8 L362.6,337.8 L361.9,338.5 L360.2,340.3 L358.5,341.9 L357.6,342.8 L356.8,343.6 L355.1,345.2 L353.4,346.9 L352.6,347.6 L351.7,348.5 L350.0,350.1 L348.3,351.7 L347.6,352.3 L346.6,353.3 L344.9,354.9 L343.2,356.5 L342.6,357.1 L341.5,358.2 L339.8,359.8 L338.1,361.5 L337.6,362.0 L336.4,363.2 L334.7,364.9 L333.0,366.6 L332.6,367.0 L331.3,368.4 L329.6,370.1 L327.9,371.9 L327.6,372.2 L326.2,373.7 L324.5,375.5 L322.8,377.3 L322.6,377.5 L321.1,379.1 L319.4,380.9 L317.7,382.7 L317.6,382.8 L316.0,384.4 L314.3,386.2 L312.6,388.0 L312.6,388.0 L310.9,389.8 L309.2,391.5 L307.6,393.2 L307.5,393.3 L305.8,395.0 L304.1,396.7 L302.6,398.2 L302.4,398.4 L300.7,400.0 L299.0,401.7 L297.6,403.0 L297.3,403.3 L295.6,404.9 L293.9,406.5 L292.6,407.7 L292.2,408.1 L290.5,409.6 L288.8,411.1 L287.6,412.1 L287.1,412.6 L285.4,414.0 L283.7,415.4 L282.6,416.3 L282.0,416.8 L280.3,418.1 L278.6,419.4 L277.6,420.2 L276.9,420.7 L275.2,421.9 L273.5,423.1 L272.6,423.7 L271.8,424.2 L270.1,425.3 L268.4,426.4 L267.6,426.9 L266.7,427.4 L265.0,428.4 L263.3,429.3 L262.6,429.7 L261.6,430.2 L259.9,431.0 L258.2,431.8 L257.6,432.0 L256.5,432.5 L254.8,433.1 L253.1,433.7 L252.6,433.9 L251.4,434.2 L249.7,434.6 L248.0,434.9 L247.6,435.0 L246.3,435.1 L244.6,435.2 L242.9,435.2 L242.6,435.2 L241.2,435.1 L239.5,434.9 L237.8,434.5 L237.6,434.4 L236.1,434.0 L234.4,433.4 L232.7,432.6 L232.6,432.5 L231.0,431.7 L229.3,430.7 L227.6,429.6 L227.6,429.5 L225.9,428.3 L224.2,426.9 L222.6,425.5 L222.5,425.4 L220.9,423.8 L219.2,422.0 L217.6,420.3 L217.5,420.2 L215.8,418.2 L214.1,416.0 L212.6,414.1 L212.4,413.8 L210.7,411.5 L209.0,409.0 L207.6,407.0 L207.3,406.4 L205.6,403.8 L203.9,401.1 L202.6,399.0 L202.2,398.3 L200.5,395.5 L198.8,392.7 L197.6,390.7 L197.1,389.8 L195.4,387.0 L193.7,384.1 L192.6,382.2 L192.0,381.1 L190.3,378.1 L188.6,375.0 L187.6,373.2 L186.9,371.8 L185.2,368.5 L183.5,365.2 L182.6,363.4 L181.8,361.7 L180.1,358.1 L178.4,354.4 L177.6,352.7 L176.7,350.7 L175.0,346.9 L173.3,343.0 L172.6,341.5 L171.6,339.2 L169.9,335.2 L168.2,331.2 L167.6,329.9 L166.5,327.2 L164.8,323.2 L163.1,319.2 L162.6,318.0 L161.4,315.1 L159.7,311.1 L158.0,307.0 L157.6,306.1 L156.3,302.9 L154.6,298.8 L152.9,294.8 L152.6,294.1 L151.2,290.7 L149.5,286.6 L147.8,282.6 L147.6,282.1 L146.1,278.5 L144.4,274.5 L142.7,270.4 L142.6,270.2 L141.0,266.5 L139.3,262.5 L137.6,258.5 Z" fill="#0000ff" stroke="#0000ff" stroke-width="1.35" fill-opacity="0.3" stroke-opacity="0.404" stroke-linejoin="round"/>
<path d="M137.6,201.3 L139.3,205.3 L141.0,209.2 L142.6,212.9 L142.7,213.1 L144.4,217.0 L146.1,220.8 L147.6,224.2 L147.8,224.7 L149.5,228.5 L151.2,232.3 L152.6,235.4 L152.9,236.0 L154.6,239.8 L156.3,243.5 L157.6,246.3 L158.0,247.2 L159.7,250.8 L161.4,254.4 L162.6,257.0 L163.1,258.0 L164.8,261.6 L166.5,265.1 L167.6,267.4 L168.2,268.6 L169.9,272.1 L171.6,275.5 L172.6,277.6 L173.3,278.9 L175.0,282.3 L176.7,285.6 L177.6,287.4 L178.4,288.9 L180.1,292.2 L181.8,295.4 L182.6,297.0 L183.5,298.6 L185.2,301.8 L186.9,304.9 L187.6,306.2 L188.6,308.0 L190.3,311.0 L192.0,314.0 L192.6,315.1 L193.7,316.9 L195.4,319.8 L197.1,322.7 L197.6,323.6 L198.8,325.5 L200.5,328.2 L202.2,330.9 L202.6,331.6 L203.9,333.5 L205.6,336.1 L207.3,338.6 L207.6,339.1 L209.0,341.0 L210.7,343.4 L212.4,345.7 L212.6,346.1 L214.1,348.0 L215.8,350.2 L217.5,352.2 L217.6,352.4 L219.2,354.3 L220.9,356.2 L222.5,358.1 L222.6,358.1 L224.2,359.9 L225.9,361.6 L227.6,363.1 L227.6,363.2 L229.3,364.7 L231.0,366.1 L232.6,367.4 L232.7,367.5 L234.4,368.7 L236.1,369.9 L237.6,370.9 L237.8,371.0 L239.5,372.0 L241.2,372.9 L242.6,373.6 L242.9,373.7 L244.6,374.5 L246.3,375.1 L247.6,375.5 L248.0,375.7 L249.7,376.2 L251.4,376.6 L252.6,376.8 L253.1,376.9 L254.8,377.1 L256.5,377.3 L257.6,377.3 L258.2,377.3 L259.9,377.2 L261.6,377.1 L262.6,377.1 L263.3,377.0 L265.0,376.8 L266.7,376.4 L267.6,376.2 L268.4,376.0 L270.1,375.5 L271.8,374.9 L272.6,374.6 L273.5,374.2 L275.2,373.5 L276.9,372.7 L277.6,372.4 L278.6,371.8 L280.3,370.9 L282.0,369.9 L282.6,369.5 L283.7,368.9 L285.4,367.7 L287.1,366.6 L287.6,366.2 L288.8,365.4 L290.5,364.1 L292.2,362.8 L292.6,362.5 L293.9,361.5 L295.6,360.1 L297.3,358.7 L297.6,358.4 L299.0,357.2 L300.7,355.7 L302.4,354.2 L302.6,354.0 L304.1,352.7 L305.8,351.1 L307.5,349.5 L307.6,349.4 L309.2,347.9 L310.9,346.3 L312.6,344.7 L312.6,344.7 L314.3,343.0 L316.0,341.4 L317.6,339.8 L317.7,339.7 L319.4,338.0 L321.1,336.3 L322.6,334.8 L322.8,334.7 L324.5,333.0 L326.2,331.3 L327.6,329.9 L327.9,329.6 L329.6,327.9 L331.3,326.2 L332.6,325.0 L333.0,324.6 L334.7,322.9 L336.4,321.3 L337.6,320.1 L338.1,319.7 L339.8,318.1 L341.5,316.5 L342.6,315.5 L343.2,314.9 L344.9,313.4 L346.6,311.8 L347.6,310.9 L348.3,310.3 L350.0,308.8 L351.7,307.3 L352.6,306.5 L353.4,305.8 L355.1,304.3 L356.8,302.8 L357.6,302.1 L358.5,301.3 L360.2,299.8 L361.9,298.3 L362.6,297.7 L363.6,296.8 L365.3,295.3 L367.0,293.8 L367.6,293.2 L368.7,292.2 L370.4,290.7 L372.1,289.1 L372.6,288.6 L373.8,287.5 L375.5,285.9 L377.2,284.3 L377.6,283.9 L378.9,282.6 L380.6,281.0 L382.3,279.3 L382.6,278.9 L384.0,277.5 L385.7,275.7 L387.4,273.9 L387.6,273.6 L389.1,272.0 L390.8,270.1 L392.4,268.1 L392.6,267.9 L394.1,266.0 L395.8,263.9 L397.5,261.6 L397.6,261.6 L399.2,259.3 L400.9,256.9 L402.6,254.4 L402.6,254.4 L404.3,251.7 L406.0,249.0 L407.6,246.4 L407.7,246.2 L409.4,243.2 L411.1,240.1 L412.6,237.3 L412.8,236.8 L414.5,233.4 L416.2,229.9 L417.6,227.0 L417.9,226.3 L419.6,222.6 L421.3,218.9 L423.0,215.0 L424.7,210.8 L425.3,209.3 L426.4,206.0 L428.1,200.6 L428.3,200.0 L429.8,194.6 L430.8,191.2 L431.5,188.7 L433.2,182.8 L434.9,177.1 L436.2,173.1 L436.6,171.8 L438.3,167.1 L440.0,162.6 L441.6,158.0 L441.7,157.6 L443.4,151.9 L444.6,147.7 L445.1,145.8 L446.8,139.2 L447.6,136.4 L448.5,133.3 L450.2,128.0 L451.4,125.1 L451.9,124.1 L453.6,121.2 L455.2,119.0 L455.3,118.8 L457.0,116.9 L458.7,114.8 L458.9,114.5 L460.4,111.6 L461.2,110.0 L462.1,108.0 L463.8,104.2 L464.9,102.6 L465.5,102.0 L467.2,100.7 L468.9,100.1 L468.9,100.1 L470.6,100.9 L472.3,102.6 L473.0,103.5 L474.0,105.1 L475.7,109.3 L477.0,112.9 L477.4,114.0 L479.1,119.6 L479.5,120.9 L480.8,124.9 L482.0,128.4 L482.5,129.8 L484.2,134.2 L484.5,135.0 L485.9,138.1 L487.0,140.5 L487.6,141.8 L489.3,145.4 L489.5,145.8 L491.0,148.8 L492.0,150.8 L492.7,152.2 L494.4,155.3 L494.5,155.6 L496.1,158.4 L497.0,159.9 L497.8,161.2 L499.5,163.9 L499.5,163.9 L501.2,166.3 L502.0,167.4 L502.9,168.6 L504.6,170.7 L506.3,172.6 L507.0,173.3 L508.0,174.2 L509.7,175.5 L511.0,176.3 L511.4,176.5 L513.1,177.3 L514.8,177.9 L515.0,178.0 L516.5,178.2 L518.2,178.4 L519.0,178.4 L519.9,178.4 L521.6,178.1 L523.0,177.8 L523.3,177.8 L525.0,177.3 L526.7,176.6 L527.0,176.5 L528.4,175.9 L530.1,175.1 L531.0,174.6 L531.8,174.2 L533.5,173.3 L535.0,172.4 L535.2,172.3 L536.9,171.3 L538.6,170.3 L539.0,170.1 L540.3,169.3 L542.0,168.2 L543.0,167.5 L543.7,167.1 L545.4,165.9 L547.0,164.8 L547.1,164.8 L548.8,163.6 L550.5,162.4 L551.0,162.0 L552.2,161.1 L553.9,159.8 L555.0,159.0 L555.6,158.5 L557.3,157.2 L559.0,155.9 L559.0,155.8 L560.7,154.5 L562.3,153.1 L563.0,152.6 L564.0,151.7 L565.7,150.3 L567.0,149.2 L567.4,148.9 L569.1,147.4 L570.8,145.9 L571.0,145.8 L572.5,144.4 L574.2,142.9 L575.0,142.3 L575.9,141.4 L577.6,139.9 L579.0,138.7 L579.3,138.4 L581.0,136.8 L582.7,135.3 L583.0,135.0 L584.4,133.7 L586.1,132.1 L587.0,131.3 L587.8,130.5 L589.5,128.9 L591.0,127.6 L591.2,127.3 L592.9,125.7 L594.6,124.1 L595.0,123.8 L596.3,122.5 L598.0,120.9 L599.0,120.0 L599.7,119.3 L601.4,117.7 L603.0,116.2 L603.1,116.1 L604.8,114.5 L606.5,112.9 L607.0,112.5 L608.2,111.3 L609.9,109.8 L611.0,108.8 L611.6,108.2 L613.3,106.6 L615.0,105.1 L615.0,105.0 L616.7,103.5 L618.4,101.9 L619.0,101.4 L620.1,100.4 L621.8,98.9 L623.0,97.8 L623.5,97.4 L625.2,95.9 L626.9,94.4 L627.0,94.3 L628.6,92.9 L630.3,91.5 L631.0,90.9 L632.0,90.0 L633.7,88.6 L635.0,87.6 L635.4,87.2 L637.1,85.9 L638.8,84.5 L639.0,84.4 L640.5,83.2 L642.2,81.9 L643.0,81.3 L643.9,80.6 L645.6,79.3 L647.0,78.3 L647.3,78.1 L649.0,76.9 L650.7,75.7 L651.0,75.5 L652.4,74.5 L654.1,73.4 L655.0,72.8 L655.8,72.3 L657.5,71.3 L659.0,70.4 L659.2,70.2 L660.9,69.2 L662.6,68.3 L663.0,68.1 L664.3,67.4 L666.0,66.5 L667.0,66.0 L667.7,65.6 L669.4,64.8 L671.0,64.1 L671.1,64.0 L672.8,63.3 L674.5,62.6 L675.0,62.4 L676.2,61.9 L677.9,61.3 L679.0,60.9 L679.6,60.8 L681.3,60.2 L683.0,59.8 L683.0,59.7 L684.7,59.3 L686.4,58.9 L687.0,58.8 L688.1,58.6 L689.8,58.3 L691.0,58.1 L691.5,58.0 L693.2,57.8 L694.9,57.6 L695.0,57.6 L696.6,57.4 L698.3,57.3 L699.0,57.3 L700.0,57.3 L701.7,57.2 L703.0,57.2 L703.4,57.2 L705.1,57.3 L706.8,57.3 L707.0,57.3 L708.5,57.4 L710.2,57.6 L711.0,57.7 L711.9,57.8 L713.6,58.0 L715.0,58.2 L715.3,58.2 L717.0,58.5 L718.7,58.8 L719.0,58.9 L720.4,59.1 L722.1,59.5 L723.0,59.7 L723.8,59.9 L725.5,60.3 L727.0,60.7 L727.2,60.8 L728.9,61.3 L730.6,61.8 L731.0,61.9 L732.2,62.3 L733.9,62.9 L735.0,63.2 L735.6,63.5 L737.3,64.1 L739.0,64.7 L739.0,64.7 L740.7,65.4 L742.4,66.1 L743.0,66.3 L744.1,66.8 L745.8,67.5 L747.0,68.0 L747.5,68.3 L749.2,69.0 L750.9,69.8 L751.0,69.8 L752.6,70.6 L754.3,71.5 L755.0,71.8 L756.0,72.3 L757.7,73.2 L759.0,73.8 L759.4,74.1 L761.1,75.0 L762.8,75.9 L763.0,76.0 L764.5,76.8 L766.2,77.7 L767.0,78.2 L767.9,78.7 L769.6,79.7 L771.0,80.5 L771.3,80.7 L773.0,81.7 L774.7,82.7 L775.0,82.8 L776.4,83.7 L778.1,84.7 L779.0,85.3 L779.8,85.8 L781.5,86.8 L783.0,87.8 L783.2,87.9 L784.9,89.0 L786.6,90.0 L787.0,90.3 L788.3,91.1 L790.0,92.2 L791.0,92.8 L791.7,93.3 L793.4,94.4 L795.0,95.4 L795.1,95.5 L796.8,96.6 L798.5,97.7 L799.0,98.0 L800.2,98.8 L801.9,100.0 L803.0,100.7 L803.6,101.1 L805.3,102.2 L807.0,103.3 L807.0,103.3 L808.7,104.4 L810.4,105.6 L811.0,105.9 L812.1,106.7 L813.8,107.8 L815.0,108.6 L815.5,108.9 L815.5,135.4 L815.0,135.2 L813.8,134.7 L812.1,134.0 L811.0,133.5 L810.4,133.2 L808.7,132.4 L807.0,131.6 L807.0,131.6 L805.3,130.7 L803.6,129.8 L803.0,129.5 L801.9,128.9 L800.2,127.9 L799.0,127.3 L798.5,127.0 L796.8,126.0 L795.1,125.0 L795.0,124.9 L793.4,123.9 L791.7,122.9 L791.0,122.4 L790.0,121.8 L788.3,120.7 L787.0,119.9 L786.6,119.6 L784.9,118.5 L783.2,117.4 L783.0,117.2 L781.5,116.3 L779.8,115.1 L779.0,114.6 L778.1,114.0 L776.4,112.9 L775.0,111.9 L774.7,111.7 L773.0,110.6 L771.3,109.5 L771.0,109.3 L769.6,108.4 L767.9,107.3 L767.0,106.7 L766.2,106.2 L764.5,105.1 L763.0,104.1 L762.8,104.0 L761.1,102.9 L759.4,101.9 L759.0,101.6 L757.7,100.8 L756.0,99.8 L755.0,99.2 L754.3,98.8 L752.6,97.9 L751.0,97.0 L750.9,96.9 L749.2,96.0 L747.5,95.1 L747.0,94.9 L745.8,94.3 L744.1,93.4 L743.0,92.9 L742.4,92.7 L740.7,91.9 L739.0,91.2 L739.0,91.2 L737.3,90.5 L735.6,89.8 L735.0,89.6 L733.9,89.2 L732.2,88.7 L731.0,88.3 L730.6,88.1 L728.9,87.6 L727.2,87.2 L727.0,87.1 L725.5,86.7 L723.8,86.3 L723.0,86.2 L722.1,86.0 L720.4,85.7 L719.0,85.4 L718.7,85.4 L717.0,85.1 L715.3,84.9 L715.0,84.8 L713.6,84.7 L711.9,84.5 L711.0,84.4 L710.2,84.4 L708.5,84.3 L707.0,84.2 L706.8,84.2 L705.1,84.2 L703.4,84.2 L703.0,84.2 L701.7,84.2 L700.0,84.2 L699.0,84.3 L698.3,84.3 L696.6,84.4 L695.0,84.5 L694.9,84.5 L693.2,84.7 L691.5,84.9 L691.0,84.9 L689.8,85.1 L688.1,85.3 L687.0,85.5 L686.4,85.6 L684.7,85.9 L683.0,86.2 L683.0,86.2 L681.3,86.6 L679.6,86.9 L679.0,87.1 L677.9,87.3 L676.2,87.7 L675.0,88.0 L674.5,88.2 L672.8,88.6 L671.1,89.1 L671.0,89.1 L669.4,89.6 L667.7,90.2 L667.0,90.4 L666.0,90.7 L664.3,91.3 L663.0,91.8 L662.6,92.0 L660.9,92.6 L659.2,93.3 L659.0,93.4 L657.5,94.0 L655.8,94.7 L655.0,95.1 L654.1,95.5 L652.4,96.3 L651.0,96.9 L650.7,97.1 L649.0,97.9 L647.3,98.8 L647.0,98.9 L645.6,99.7 L643.9,100.6 L643.0,101.1 L642.2,101.6 L640.5,102.6 L639.0,103.5 L638.8,103.6 L637.1,104.6 L635.4,105.7 L635.0,106.0 L633.7,106.8 L632.0,108.0 L631.0,108.7 L630.3,109.2 L628.6,110.4 L627.0,111.6 L626.9,111.6 L625.2,112.9 L623.5,114.2 L623.0,114.6 L621.8,115.5 L620.1,116.9 L619.0,117.8 L618.4,118.2 L616.7,119.6 L615.0,121.1 L615.0,121.1 L613.3,122.5 L611.6,124.0 L611.0,124.5 L609.9,125.5 L608.2,127.0 L607.0,128.0 L606.5,128.5 L604.8,130.0 L603.1,131.5 L603.0,131.6 L601.4,133.1 L599.7,134.6 L599.0,135.3 L598.0,136.2 L596.3,137.7 L595.0,139.0 L594.6,139.3 L592.9,140.9 L591.2,142.5 L591.0,142.7 L589.5,144.0 L587.8,145.6 L587.0,146.4 L586.1,147.2 L584.4,148.7 L583.0,150.1 L582.7,150.3 L581.0,151.8 L579.3,153.4 L579.0,153.7 L577.6,154.9 L575.9,156.4 L575.0,157.3 L574.2,157.9 L572.5,159.4 L571.0,160.8 L570.8,160.9 L569.1,162.4 L567.4,163.8 L567.0,164.2 L565.7,165.2 L564.0,166.6 L563.0,167.5 L562.3,168.0 L560.7,169.3 L559.0,170.6 L559.0,170.7 L557.3,172.0 L555.6,173.2 L555.0,173.6 L553.9,174.5 L552.2,175.7 L551.0,176.5 L550.5,176.9 L548.8,178.1 L547.1,179.2 L547.0,179.3 L545.4,180.4 L543.7,181.5 L543.0,181.9 L542.0,182.5 L540.3,183.6 L539.0,184.4 L538.6,184.6 L536.9,185.6 L535.2,186.6 L535.0,186.7 L533.5,187.6 L531.8,188.5 L531.0,188.9 L530.1,189.4 L528.4,190.3 L527.0,191.0 L526.7,191.2 L525.0,192.0 L523.3,192.8 L523.0,192.9 L521.6,193.6 L519.9,194.4 L519.0,194.8 L518.2,195.1 L516.5,195.9 L515.0,196.5 L514.8,196.6 L513.1,197.2 L511.4,197.9 L511.0,198.0 L509.7,198.5 L508.0,199.0 L507.0,199.4 L506.3,199.7 L504.6,200.6 L502.9,201.4 L502.5,201.5 L501.2,201.7 L500.0,201.8 L499.5,201.8 L497.8,201.9 L497.5,201.9 L496.1,201.8 L495.0,201.6 L494.4,201.5 L492.7,201.0 L492.5,200.9 L491.0,200.3 L490.0,199.8 L489.3,199.4 L487.6,198.3 L487.5,198.2 L485.9,197.0 L485.0,196.2 L484.2,195.4 L482.5,193.6 L482.5,193.6 L480.8,191.5 L480.0,190.5 L479.1,189.2 L477.5,186.7 L477.4,186.5 L475.7,183.6 L475.0,182.3 L474.0,180.4 L472.5,177.2 L472.3,176.8 L470.6,172.9 L470.0,171.4 L468.9,168.4 L468.4,167.0 L467.2,164.2 L466.0,161.5 L465.5,160.3 L464.0,156.5 L463.8,156.0 L462.1,151.9 L461.8,151.7 L460.8,154.4 L460.4,156.0 L459.0,162.6 L458.7,163.6 L457.0,168.0 L455.3,172.2 L455.0,173.1 L453.6,177.7 L451.9,184.0 L450.2,190.4 L450.0,191.2 L448.5,196.7 L447.6,200.0 L446.8,202.7 L445.1,208.2 L443.4,213.5 L442.7,215.7 L441.7,218.8 L440.0,224.1 L438.3,229.2 L436.7,233.8 L436.6,234.0 L434.9,238.5 L433.2,242.6 L431.5,246.5 L430.7,248.3 L429.8,250.1 L428.1,253.4 L426.4,256.4 L424.7,259.3 L423.4,261.5 L423.0,262.1 L421.3,264.7 L419.6,267.2 L417.9,269.6 L417.6,270.0 L416.2,272.0 L414.5,274.3 L412.8,276.6 L412.6,277.0 L411.1,278.9 L409.4,281.0 L407.7,283.1 L407.6,283.3 L406.0,285.2 L404.3,287.2 L402.6,289.2 L402.6,289.3 L400.9,291.1 L399.2,293.1 L397.6,294.9 L397.5,294.9 L395.8,296.8 L394.1,298.6 L392.6,300.3 L392.4,300.4 L390.8,302.2 L389.1,304.0 L387.6,305.5 L387.4,305.8 L385.7,307.5 L384.0,309.3 L382.6,310.6 L382.3,311.0 L380.6,312.7 L378.9,314.4 L377.6,315.6 L377.2,316.1 L375.5,317.8 L373.8,319.4 L372.6,320.6 L372.1,321.1 L370.4,322.8 L368.7,324.4 L367.6,325.4 L367.0,326.1 L365.3,327.7 L363.6,329.3 L362.6,330.3 L361.9,331.0 L360.2,332.6 L358.5,334.3 L357.6,335.1 L356.8,335.9 L355.1,337.5 L353.4,339.2 L352.6,339.9 L351.7,340.8 L350.0,342.5 L348.3,344.1 L347.6,344.8 L346.6,345.8 L344.9,347.4 L343.2,349.1 L342.6,349.7 L341.5,350.8 L339.8,352.5 L338.1,354.2 L337.6,354.7 L336.4,355.9 L334.7,357.6 L333.0,359.4 L332.6,359.8 L331.3,361.2 L329.6,363.0 L327.9,364.8 L327.6,365.1 L326.2,366.6 L324.5,368.5 L322.8,370.4 L322.6,370.6 L321.1,372.3 L319.4,374.3 L317.7,376.3 L317.6,376.4 L316.0,378.3 L314.3,380.3 L312.6,382.4 L312.6,382.4 L310.9,384.5 L309.2,386.5 L307.6,388.5 L307.5,388.6 L305.8,390.7 L304.1,392.8 L302.6,394.6 L302.4,394.9 L300.7,396.9 L299.0,399.0 L297.6,400.7 L297.3,401.0 L295.6,403.1 L293.9,405.1 L292.6,406.6 L292.2,407.0 L290.5,409.0 L288.8,410.9 L287.6,412.2 L287.1,412.7 L285.4,414.5 L283.7,416.3 L282.6,417.4 L282.0,418.0 L280.3,419.7 L278.6,421.3 L277.6,422.2 L276.9,422.8 L275.2,424.3 L273.5,425.6 L272.6,426.3 L271.8,426.9 L270.1,428.1 L268.4,429.2 L267.6,429.7 L266.7,430.2 L265.0,431.1 L263.3,431.9 L262.6,432.2 L261.6,432.5 L259.9,433.1 L258.2,433.6 L257.6,433.7 L256.5,434.0 L254.8,434.2 L253.1,434.4 L252.6,434.4 L251.4,434.4 L249.7,434.3 L248.0,434.2 L247.6,434.2 L246.3,434.0 L244.6,433.6 L242.9,433.1 L242.6,433.0 L241.2,432.5 L239.5,431.9 L237.8,431.1 L237.6,431.0 L236.1,430.2 L234.4,429.3 L232.7,428.2 L232.6,428.1 L231.0,427.1 L229.3,425.8 L227.6,424.5 L227.6,424.4 L225.9,423.1 L224.2,421.6 L222.6,420.0 L222.5,420.0 L220.9,418.3 L219.2,416.5 L217.6,414.8 L217.5,414.7 L215.8,412.8 L214.1,410.8 L212.6,409.0 L212.4,408.7 L210.7,406.6 L209.0,404.3 L207.6,402.5 L207.3,402.1 L205.6,399.7 L203.9,397.3 L202.6,395.4 L202.2,394.8 L200.5,392.2 L198.8,389.6 L197.6,387.8 L197.1,387.0 L195.4,384.2 L193.7,381.4 L192.6,379.7 L192.0,378.6 L190.3,375.7 L188.6,372.8 L187.6,371.1 L186.9,369.8 L185.2,366.8 L183.5,363.7 L182.6,362.1 L181.8,360.6 L180.1,357.4 L178.4,354.2 L177.6,352.7 L176.7,351.0 L175.0,347.7 L173.3,344.4 L172.6,343.1 L171.6,341.1 L169.9,337.7 L168.2,334.3 L167.6,333.2 L166.5,330.9 L164.8,327.5 L163.1,324.1 L162.6,323.1 L161.4,320.6 L159.7,317.1 L158.0,313.6 L157.6,312.8 L156.3,310.1 L154.6,306.6 L152.9,303.1 L152.6,302.5 L151.2,299.5 L149.5,296.0 L147.8,292.5 L147.6,292.1 L146.1,288.9 L144.4,285.4 L142.7,281.9 L142.6,281.7 L141.0,278.4 L139.3,274.9 L137.6,271.4 Z" fill="#ff0000" stroke="#ff0000" stroke-width="1.35" fill-opacity="0.2" stroke-opacity="0.276" stroke-linejoin="round"/>
<path d="M137.6,204.0 L139.3,207.9 L141.0,211.9 L142.6,215.5 L142.7,215.7 L144.4,219.6 L146.1,223.3 L147.6,226.7 L147.8,227.1 L149.5,230.8 L151.2,234.4 L152.6,237.4 L152.9,238.0 L154.6,241.6 L156.3,245.2 L157.6,247.9 L158.0,248.7 L159.7,252.2 L161.4,255.7 L162.6,258.2 L163.1,259.1 L164.8,262.6 L166.5,266.0 L167.6,268.3 L168.2,269.4 L169.9,272.9 L171.6,276.3 L172.6,278.3 L173.3,279.7 L175.0,283.0 L176.7,286.4 L177.6,288.2 L178.4,289.8 L180.1,293.1 L181.8,296.4 L182.6,298.0 L183.5,299.7 L185.2,302.9 L186.9,306.2 L187.6,307.5 L188.6,309.4 L190.3,312.5 L192.0,315.6 L192.6,316.7 L193.7,318.7 L195.4,321.7 L197.1,324.6 L197.6,325.6 L198.8,327.5 L200.5,330.4 L202.2,333.2 L202.6,333.9 L203.9,335.9 L205.6,338.6 L207.3,341.2 L207.6,341.7 L209.0,343.7 L210.7,346.1 L212.4,348.5 L212.6,348.8 L214.1,350.8 L215.8,353.0 L217.5,355.1 L217.6,355.3 L219.2,357.1 L220.9,359.1 L222.5,360.9 L222.6,361.0 L224.2,362.7 L225.9,364.4 L227.6,366.0 L227.6,366.0 L229.3,367.5 L231.0,369.0 L232.6,370.2 L232.7,370.3 L234.4,371.5 L236.1,372.7 L237.6,373.6 L237.8,373.8 L239.5,374.8 L241.2,375.7 L242.6,376.3 L242.9,376.5 L244.6,377.2 L246.3,377.9 L247.6,378.3 L248.0,378.4 L249.7,378.9 L251.4,379.3 L252.6,379.5 L253.1,379.6 L254.8,379.8 L256.5,380.0 L257.6,380.0 L258.2,380.0 L259.9,379.9 L261.6,379.8 L262.6,379.7 L263.3,379.6 L265.0,379.3 L266.7,379.0 L267.6,378.7 L268.4,378.5 L270.1,378.0 L271.8,377.4 L272.6,377.1 L273.5,376.8 L275.2,376.0 L276.9,375.3 L277.6,374.9 L278.6,374.4 L280.3,373.5 L282.0,372.6 L282.6,372.2 L283.7,371.6 L285.4,370.5 L287.1,369.4 L287.6,369.1 L288.8,368.2 L290.5,367.0 L292.2,365.8 L292.6,365.5 L293.9,364.5 L295.6,363.2 L297.3,361.8 L297.6,361.6 L299.0,360.5 L300.7,359.1 L302.4,357.6 L302.6,357.4 L304.1,356.2 L305.8,354.7 L307.5,353.2 L307.6,353.1 L309.2,351.6 L310.9,350.1 L312.6,348.6 L312.6,348.6 L314.3,347.0 L316.0,345.4 L317.6,343.9 L317.7,343.8 L319.4,342.3 L321.1,340.7 L322.6,339.3 L322.8,339.1 L324.5,337.5 L326.2,335.9 L327.6,334.6 L327.9,334.4 L329.6,332.8 L331.3,331.2 L332.6,330.0 L333.0,329.7 L334.7,328.2 L336.4,326.6 L337.6,325.5 L338.1,325.1 L339.8,323.6 L341.5,322.0 L342.6,321.0 L343.2,320.5 L344.9,319.0 L346.6,317.4 L347.6,316.5 L348.3,315.9 L350.0,314.4 L351.7,312.8 L352.6,312.0 L353.4,311.3 L355.1,309.8 L356.8,308.3 L357.6,307.5 L358.5,306.7 L360.2,305.2 L361.9,303.7 L362.6,303.1 L363.6,302.2 L365.3,300.7 L367.0,299.2 L367.6,298.6 L368.7,297.7 L370.4,296.2 L372.1,294.7 L372.6,294.3 L373.8,293.3 L375.5,291.8 L377.2,290.3 L377.6,289.9 L378.9,288.9 L380.6,287.4 L382.3,286.0 L382.6,285.7 L384.0,284.5 L385.7,283.1 L387.4,281.7 L387.6,281.5 L389.1,280.3 L390.8,278.9 L392.4,277.5 L392.6,277.3 L394.1,276.1 L395.8,274.7 L397.5,273.3 L397.6,273.3 L399.2,272.0 L400.9,270.6 L402.6,269.3 L402.6,269.3 L404.3,267.9 L406.0,266.6 L407.6,265.4 L407.7,265.2 L409.4,263.9 L411.1,262.6 L412.6,261.5 L412.8,261.3 L414.5,260.0 L416.2,258.7 L417.6,257.6 L417.9,257.4 L419.6,256.1 L421.3,254.8 L422.6,253.9 L423.0,253.5 L424.7,252.3 L426.4,251.0 L427.6,250.1 L428.1,249.7 L429.8,248.5 L431.5,247.2 L432.6,246.4 L433.2,245.9 L434.9,244.7 L436.6,243.4 L437.6,242.7 L438.3,242.2 L440.0,241.0 L441.7,239.7 L442.6,239.1 L443.4,238.5 L445.1,237.3 L446.8,236.0 L447.6,235.5 L448.5,234.8 L450.2,233.6 L451.9,232.4 L452.6,231.9 L453.6,231.1 L455.3,229.9 L457.0,228.7 L457.6,228.3 L458.7,227.5 L460.4,226.3 L462.1,225.1 L462.6,224.7 L463.8,223.8 L465.5,222.6 L467.2,221.4 L467.6,221.1 L468.9,220.2 L470.6,219.0 L472.3,217.8 L472.6,217.6 L474.0,216.6 L475.7,215.4 L477.4,214.2 L477.6,214.0 L479.1,212.9 L480.8,211.7 L482.5,210.5 L482.6,210.4 L484.2,209.3 L485.9,208.1 L487.6,206.9 L487.6,206.9 L489.3,205.6 L491.0,204.4 L492.6,203.3 L492.7,203.2 L494.4,202.0 L496.1,200.7 L497.6,199.6 L497.8,199.5 L499.5,198.3 L501.2,197.0 L502.6,196.0 L502.9,195.8 L504.6,194.5 L506.3,193.3 L507.6,192.3 L508.0,192.0 L509.7,190.8 L511.4,189.5 L512.6,188.6 L513.1,188.3 L514.8,187.0 L516.5,185.7 L517.6,184.9 L518.2,184.4 L519.9,183.2 L521.6,181.9 L522.6,181.1 L523.3,180.6 L525.0,179.3 L526.7,178.0 L527.6,177.3 L528.4,176.7 L530.1,175.4 L531.8,174.0 L532.6,173.4 L533.5,172.7 L535.2,171.4 L536.9,170.0 L537.6,169.5 L538.6,168.7 L540.3,167.3 L542.0,166.0 L542.6,165.5 L543.7,164.6 L545.4,163.2 L547.1,161.8 L547.6,161.4 L548.8,160.5 L550.5,159.1 L552.2,157.7 L552.6,157.3 L553.9,156.2 L555.6,154.8 L557.3,153.4 L557.6,153.1 L559.0,152.0 L560.7,150.5 L562.3,149.1 L562.6,148.9 L564.0,147.6 L565.7,146.2 L567.4,144.7 L567.6,144.6 L569.1,143.3 L570.8,141.8 L572.5,140.3 L572.6,140.3 L574.2,138.9 L575.9,137.4 L577.6,135.9 L577.6,135.9 L579.3,134.4 L581.0,132.9 L582.6,131.6 L582.7,131.4 L584.4,129.9 L586.1,128.4 L587.6,127.2 L587.8,126.9 L589.5,125.4 L591.2,123.9 L592.6,122.7 L592.9,122.4 L594.6,120.9 L596.3,119.4 L597.6,118.3 L598.0,117.9 L599.7,116.4 L601.4,114.9 L602.6,113.9 L603.1,113.4 L604.8,111.9 L606.5,110.4 L607.6,109.4 L608.2,108.9 L609.9,107.4 L611.6,105.9 L612.6,105.0 L613.3,104.4 L615.0,102.9 L616.7,101.4 L617.6,100.6 L618.4,99.9 L620.1,98.4 L621.8,97.0 L622.6,96.3 L623.5,95.5 L625.2,94.1 L626.9,92.6 L627.6,92.1 L628.6,91.2 L630.3,89.8 L632.0,88.4 L632.6,88.0 L633.7,87.1 L635.4,85.7 L637.1,84.4 L637.6,84.0 L638.8,83.1 L640.5,81.8 L642.2,80.5 L642.6,80.2 L643.9,79.3 L645.6,78.1 L647.3,76.9 L647.6,76.7 L649.0,75.7 L650.7,74.6 L652.4,73.5 L652.6,73.3 L654.1,72.4 L655.8,71.4 L657.5,70.3 L657.6,70.3 L659.2,69.4 L660.9,68.4 L662.6,67.5 L662.6,67.5 L664.3,66.7 L666.0,65.8 L667.6,65.1 L667.7,65.0 L669.4,64.3 L671.1,63.5 L672.6,62.9 L672.8,62.8 L674.5,62.2 L676.2,61.5 L677.6,61.0 L677.9,60.9 L679.6,60.4 L681.3,59.9 L682.6,59.5 L683.0,59.4 L684.7,58.9 L686.4,58.5 L687.6,58.2 L688.1,58.1 L689.8,57.8 L691.5,57.4 L692.6,57.3 L693.2,57.2 L694.9,56.9 L696.6,56.7 L697.6,56.6 L698.3,56.5 L700.0,56.4 L701.7,56.3 L702.6,56.2 L703.4,56.2 L705.1,56.2 L706.8,56.2 L707.6,56.2 L708.5,56.2 L710.2,56.3 L711.9,56.4 L712.6,56.5 L713.6,56.6 L715.3,56.7 L717.0,57.0 L717.6,57.0 L718.7,57.2 L720.4,57.5 L722.1,57.8 L722.6,57.9 L723.8,58.2 L725.5,58.6 L727.2,59.0 L727.6,59.1 L728.9,59.5 L730.6,60.0 L732.2,60.5 L732.6,60.7 L733.9,61.1 L735.6,61.7 L737.3,62.4 L737.6,62.5 L739.0,63.1 L740.7,63.8 L742.4,64.6 L742.6,64.6 L744.1,65.4 L745.8,66.2 L747.5,67.1 L747.6,67.1 L749.2,68.0 L750.9,68.9 L752.6,69.8 L752.6,69.8 L754.3,70.8 L756.0,71.8 L757.6,72.7 L757.7,72.8 L759.4,73.8 L761.1,74.9 L762.6,75.8 L762.8,76.0 L764.5,77.0 L766.2,78.1 L767.6,79.0 L767.9,79.2 L769.6,80.4 L771.3,81.5 L772.6,82.3 L773.0,82.6 L774.7,83.8 L776.4,84.9 L777.6,85.7 L778.1,86.1 L779.8,87.2 L781.5,88.3 L782.6,89.1 L783.2,89.5 L784.9,90.6 L786.6,91.8 L787.6,92.4 L788.3,92.9 L790.0,94.0 L791.7,95.1 L792.6,95.7 L793.4,96.2 L795.1,97.3 L796.8,98.3 L797.6,98.8 L798.5,99.4 L800.2,100.4 L801.9,101.4 L802.6,101.8 L803.6,102.4 L805.3,103.3 L807.0,104.3 L807.6,104.6 L808.7,105.2 L810.4,106.1 L812.1,106.9 L812.6,107.2 L813.8,107.7 L815.5,108.5 L815.5,135.6 L813.8,135.3 L812.6,135.1 L812.1,134.9 L810.4,134.5 L808.7,134.0 L807.6,133.7 L807.0,133.5 L805.3,132.8 L803.6,132.1 L802.6,131.7 L801.9,131.4 L800.2,130.6 L798.5,129.8 L797.6,129.3 L796.8,128.9 L795.1,128.0 L793.4,127.0 L792.6,126.5 L791.7,126.0 L790.0,125.0 L788.3,123.9 L787.6,123.4 L786.6,122.8 L784.9,121.7 L783.2,120.5 L782.6,120.1 L781.5,119.4 L779.8,118.2 L778.1,117.0 L777.6,116.7 L776.4,115.9 L774.7,114.7 L773.0,113.5 L772.6,113.2 L771.3,112.3 L769.6,111.1 L767.9,109.9 L767.6,109.7 L766.2,108.7 L764.5,107.5 L762.8,106.4 L762.6,106.2 L761.1,105.3 L759.4,104.2 L757.7,103.1 L757.6,103.0 L756.0,102.0 L754.3,101.0 L752.6,100.0 L752.6,100.0 L750.9,99.1 L749.2,98.2 L747.6,97.3 L747.5,97.3 L745.8,96.5 L744.1,95.7 L742.6,95.1 L742.4,95.0 L740.7,94.4 L739.0,93.8 L737.6,93.3 L737.3,93.2 L735.6,92.7 L733.9,92.3 L732.6,92.0 L732.2,91.9 L730.6,91.6 L728.9,91.3 L727.6,91.1 L727.2,91.0 L725.5,90.8 L723.8,90.6 L722.6,90.5 L722.1,90.5 L720.4,90.3 L718.7,90.2 L717.6,90.2 L717.0,90.1 L715.3,90.0 L713.6,90.0 L712.6,89.9 L711.9,89.9 L710.2,89.8 L708.5,89.8 L707.6,89.8 L706.8,89.7 L705.1,89.7 L703.4,89.6 L702.6,89.6 L701.7,89.6 L700.0,89.5 L698.3,89.5 L697.6,89.5 L696.6,89.5 L694.9,89.5 L693.2,89.5 L692.6,89.5 L691.5,89.5 L689.8,89.5 L688.1,89.5 L687.6,89.6 L686.4,89.6 L684.7,89.7 L683.0,89.8 L682.6,89.8 L681.3,89.9 L679.6,90.0 L677.9,90.2 L677.6,90.2 L676.2,90.4 L674.5,90.6 L672.8,90.8 L672.6,90.9 L671.1,91.1 L669.4,91.4 L667.7,91.7 L667.6,91.8 L666.0,92.1 L664.3,92.5 L662.6,92.9 L662.6,92.9 L660.9,93.4 L659.2,93.9 L657.6,94.4 L657.5,94.4 L655.8,95.0 L654.1,95.6 L652.6,96.2 L652.4,96.3 L650.7,97.0 L649.0,97.7 L647.6,98.3 L647.3,98.5 L645.6,99.3 L643.9,100.1 L642.6,100.8 L642.2,101.0 L640.5,101.9 L638.8,102.9 L637.6,103.6 L637.1,103.9 L635.4,104.9 L633.7,105.9 L632.6,106.6 L632.0,107.0 L630.3,108.1 L628.6,109.2 L627.6,109.9 L626.9,110.3 L625.2,111.5 L623.5,112.7 L622.6,113.4 L621.8,113.9 L620.1,115.2 L618.4,116.5 L617.6,117.1 L616.7,117.8 L615.0,119.1 L613.3,120.4 L612.6,121.0 L611.6,121.8 L609.9,123.1 L608.2,124.5 L607.6,125.0 L606.5,125.9 L604.8,127.3 L603.1,128.8 L602.6,129.2 L601.4,130.2 L599.7,131.7 L598.0,133.2 L597.6,133.5 L596.3,134.6 L594.6,136.1 L592.9,137.6 L592.6,137.9 L591.2,139.2 L589.5,140.7 L587.8,142.2 L587.6,142.4 L586.1,143.7 L584.4,145.3 L582.7,146.8 L582.6,146.9 L581.0,148.4 L579.3,149.9 L577.6,151.5 L577.6,151.5 L575.9,153.0 L574.2,154.6 L572.6,156.1 L572.5,156.1 L570.8,157.7 L569.1,159.2 L567.6,160.6 L567.4,160.8 L565.7,162.3 L564.0,163.8 L562.6,165.1 L562.3,165.4 L560.7,166.9 L559.0,168.4 L557.6,169.6 L557.3,169.9 L555.6,171.4 L553.9,172.9 L552.6,174.0 L552.2,174.4 L550.5,175.8 L548.8,177.3 L547.6,178.3 L547.1,178.7 L545.4,180.1 L543.7,181.6 L542.6,182.4 L542.0,183.0 L540.3,184.3 L538.6,185.7 L537.6,186.5 L536.9,187.1 L535.2,188.4 L533.5,189.7 L532.6,190.4 L531.8,191.1 L530.1,192.4 L528.4,193.7 L527.6,194.3 L526.7,195.0 L525.0,196.3 L523.3,197.5 L522.6,198.1 L521.6,198.8 L519.9,200.1 L518.2,201.4 L517.6,201.8 L516.5,202.6 L514.8,203.9 L513.1,205.2 L512.6,205.5 L511.4,206.4 L509.7,207.7 L508.0,208.9 L507.6,209.2 L506.3,210.2 L504.6,211.4 L502.9,212.7 L502.6,212.9 L501.2,214.0 L499.5,215.2 L497.8,216.5 L497.6,216.6 L496.1,217.8 L494.4,219.0 L492.7,220.3 L492.6,220.4 L491.0,221.6 L489.3,222.9 L487.6,224.2 L487.6,224.2 L485.9,225.5 L484.2,226.9 L482.6,228.1 L482.5,228.2 L480.8,229.5 L479.1,230.9 L477.6,232.1 L477.4,232.2 L475.7,233.6 L474.0,235.0 L472.6,236.2 L472.3,236.4 L470.6,237.8 L468.9,239.2 L467.6,240.3 L467.2,240.7 L465.5,242.1 L463.8,243.5 L462.6,244.6 L462.1,245.0 L460.4,246.5 L458.7,247.9 L457.6,248.9 L457.0,249.4 L455.3,250.9 L453.6,252.4 L452.6,253.3 L451.9,253.9 L450.2,255.5 L448.5,257.0 L447.6,257.8 L446.8,258.5 L445.1,260.1 L443.4,261.6 L442.6,262.4 L441.7,263.2 L440.0,264.7 L438.3,266.3 L437.6,267.0 L436.6,267.9 L434.9,269.5 L433.2,271.1 L432.6,271.7 L431.5,272.7 L429.8,274.3 L428.1,275.9 L427.6,276.4 L426.4,277.5 L424.7,279.2 L423.0,280.8 L422.6,281.2 L421.3,282.4 L419.6,284.1 L417.9,285.7 L417.6,286.1 L416.2,287.4 L414.5,289.0 L412.8,290.7 L412.6,290.9 L411.1,292.4 L409.4,294.1 L407.7,295.8 L407.6,295.9 L406.0,297.4 L404.3,299.1 L402.6,300.8 L402.6,300.9 L400.9,302.5 L399.2,304.2 L397.6,305.9 L397.5,305.9 L395.8,307.7 L394.1,309.4 L392.6,310.9 L392.4,311.1 L390.8,312.8 L389.1,314.5 L387.6,316.0 L387.4,316.3 L385.7,318.0 L384.0,319.7 L382.6,321.1 L382.3,321.5 L380.6,323.2 L378.9,325.0 L377.6,326.3 L377.2,326.7 L375.5,328.5 L373.8,330.2 L372.6,331.4 L372.1,332.0 L370.4,333.7 L368.7,335.5 L367.6,336.6 L367.0,337.2 L365.3,339.0 L363.6,340.8 L362.6,341.8 L361.9,342.5 L360.2,344.3 L358.5,346.1 L357.6,347.0 L356.8,347.8 L355.1,349.6 L353.4,351.4 L352.6,352.2 L351.7,353.2 L350.0,354.9 L348.3,356.7 L347.6,357.4 L346.6,358.5 L344.9,360.3 L343.2,362.1 L342.6,362.7 L341.5,363.9 L339.8,365.7 L338.1,367.5 L337.6,368.0 L336.4,369.2 L334.7,371.0 L333.0,372.8 L332.6,373.2 L331.3,374.6 L329.6,376.4 L327.9,378.2 L327.6,378.5 L326.2,380.0 L324.5,381.8 L322.8,383.6 L322.6,383.8 L321.1,385.4 L319.4,387.2 L317.7,389.0 L317.6,389.1 L316.0,390.8 L314.3,392.6 L312.6,394.4 L312.6,394.4 L310.9,396.2 L309.2,398.0 L307.6,399.7 L307.5,399.8 L305.8,401.6 L304.1,403.4 L302.6,405.0 L302.4,405.2 L300.7,407.0 L299.0,408.8 L297.6,410.2 L297.3,410.5 L295.6,412.3 L293.9,414.0 L292.6,415.3 L292.2,415.7 L290.5,417.4 L288.8,419.0 L287.6,420.2 L287.1,420.6 L285.4,422.2 L283.7,423.8 L282.6,424.8 L282.0,425.3 L280.3,426.8 L278.6,428.3 L277.6,429.1 L276.9,429.7 L275.2,431.0 L273.5,432.4 L272.6,433.1 L271.8,433.6 L270.1,434.9 L268.4,436.0 L267.6,436.6 L266.7,437.1 L265.0,438.2 L263.3,439.2 L262.6,439.6 L261.6,440.1 L259.9,441.0 L258.2,441.8 L257.6,442.1 L256.5,442.6 L254.8,443.2 L253.1,443.8 L252.6,444.0 L251.4,444.3 L249.7,444.7 L248.0,445.0 L247.6,445.1 L246.3,445.2 L244.6,445.3 L242.9,445.3 L242.6,445.3 L241.2,445.2 L239.5,444.9 L237.8,444.6 L237.6,444.5 L236.1,444.1 L234.4,443.5 L232.7,442.7 L232.6,442.7 L231.0,441.9 L229.3,440.9 L227.6,439.8 L227.6,439.8 L225.9,438.6 L224.2,437.3 L222.6,435.9 L222.5,435.8 L220.9,434.3 L219.2,432.6 L217.6,431.0 L217.5,430.8 L215.8,428.9 L214.1,426.9 L212.6,425.1 L212.4,424.8 L210.7,422.6 L209.0,420.2 L207.6,418.3 L207.3,417.8 L205.6,415.3 L203.9,412.7 L202.6,410.7 L202.2,410.1 L200.5,407.4 L198.8,404.7 L197.6,402.8 L197.1,402.0 L195.4,399.3 L193.7,396.5 L192.6,394.7 L192.0,393.7 L190.3,390.8 L188.6,387.8 L187.6,386.1 L186.9,384.8 L185.2,381.7 L183.5,378.4 L182.6,376.8 L181.8,375.1 L180.1,371.7 L178.4,368.2 L177.6,366.6 L176.7,364.7 L175.0,361.1 L173.3,357.4 L172.6,355.9 L171.6,353.7 L169.9,349.9 L168.2,346.2 L167.6,344.9 L166.5,342.4 L164.8,338.5 L163.1,334.7 L162.6,333.6 L161.4,330.9 L159.7,327.0 L158.0,323.2 L157.6,322.3 L156.3,319.3 L154.6,315.4 L152.9,311.6 L152.6,310.9 L151.2,307.7 L149.5,303.9 L147.8,300.1 L147.6,299.6 L146.1,296.2 L144.4,292.4 L142.7,288.7 L142.6,288.5 L141.0,284.9 L139.3,281.2 L137.6,277.5 Z" fill="#0000ff" stroke="#0000ff" stroke-width="1.35" fill-opacity="0.2" stroke-opacity="0.276" stroke-linejoin="round"/>
<path d="M137.6,185.5 L139.3,189.5 L141.0,193.5 L142.6,197.2 L142.7,197.5 L144.4,201.4 L146.1,205.3 L147.6,208.7 L147.8,209.2 L149.5,213.0 L151.2,216.8 L152.6,220.0 L152.9,220.6 L154.6,224.4 L156.3,228.2 L157.6,231.1 L158.0,231.9 L159.7,235.6 L161.4,239.3 L162.6,241.9 L163.1,242.9 L164.8,246.5 L166.5,250.1 L167.6,252.5 L168.2,253.7 L169.9,257.2 L171.6,260.7 L172.6,262.8 L173.3,264.2 L175.0,267.7 L176.7,271.1 L177.6,273.0 L178.4,274.5 L180.1,277.9 L181.8,281.2 L182.6,282.8 L183.5,284.5 L185.2,287.8 L186.9,291.1 L187.6,292.5 L188.6,294.3 L190.3,297.5 L192.0,300.6 L192.6,301.8 L193.7,303.7 L195.4,306.8 L197.1,309.8 L197.6,310.8 L198.8,312.8 L200.5,315.7 L202.2,318.6 L202.6,319.3 L203.9,321.4 L205.6,324.1 L207.3,326.8 L207.6,327.3 L209.0,329.4 L210.7,332.0 L212.4,334.4 L212.6,334.8 L214.1,336.8 L215.8,339.2 L217.5,341.4 L217.6,341.6 L219.2,343.6 L220.9,345.7 L222.5,347.6 L222.6,347.7 L224.2,349.5 L225.9,351.4 L227.6,353.0 L227.6,353.1 L229.3,354.7 L231.0,356.2 L232.6,357.5 L232.7,357.6 L234.4,358.9 L236.1,360.1 L237.6,361.1 L237.8,361.2 L239.5,362.3 L241.2,363.2 L242.6,363.9 L242.9,364.0 L244.6,364.8 L246.3,365.4 L247.6,365.8 L248.0,366.0 L249.7,366.4 L251.4,366.9 L252.6,367.1 L253.1,367.1 L254.8,367.4 L256.5,367.5 L257.6,367.6 L258.2,367.6 L259.9,367.5 L261.6,367.5 L262.6,367.4 L263.3,367.4 L265.0,367.2 L266.7,366.8 L267.6,366.7 L268.4,366.5 L270.1,366.0 L271.8,365.5 L272.6,365.3 L273.5,365.0 L275.2,364.3 L276.9,363.7 L277.6,363.4 L278.6,362.9 L280.3,362.1 L282.0,361.2 L282.6,360.9 L283.7,360.3 L285.4,359.4 L287.1,358.3 L287.6,358.0 L288.8,357.3 L290.5,356.1 L292.2,355.0 L292.6,354.7 L293.9,353.8 L295.6,352.5 L297.3,351.2 L297.6,351.0 L299.0,349.9 L300.7,348.5 L302.4,347.1 L302.6,346.9 L304.1,345.6 L305.8,344.1 L307.5,342.6 L307.6,342.5 L309.2,341.1 L310.9,339.5 L312.6,337.9 L312.6,337.9 L314.3,336.3 L316.0,334.7 L317.6,333.1 L317.7,333.0 L319.4,331.4 L321.1,329.7 L322.6,328.2 L322.8,328.0 L324.5,326.3 L326.2,324.6 L327.6,323.3 L327.9,323.0 L329.6,321.3 L331.3,319.6 L332.6,318.3 L333.0,317.9 L334.7,316.3 L336.4,314.6 L337.6,313.5 L338.1,313.0 L339.8,311.4 L341.5,309.8 L342.6,308.8 L343.2,308.2 L344.9,306.7 L346.6,305.1 L347.6,304.2 L348.3,303.6 L350.0,302.0 L351.7,300.5 L352.6,299.7 L353.4,299.0 L355.1,297.5 L356.8,296.0 L357.6,295.2 L358.5,294.4 L360.2,292.9 L361.9,291.3 L362.6,290.7 L363.6,289.8 L365.3,288.2 L367.0,286.6 L367.6,286.0 L368.7,285.0 L370.4,283.3 L372.1,281.7 L372.6,281.1 L373.8,280.0 L375.5,278.2 L377.2,276.5 L377.6,276.0 L378.9,274.7 L380.6,272.9 L382.3,271.0 L382.6,270.6 L384.0,269.1 L385.7,267.1 L387.4,265.1 L387.6,264.8 L389.1,263.0 L390.8,260.9 L392.4,258.7 L392.6,258.5 L394.1,256.4 L395.8,254.1 L397.5,251.6 L397.6,251.6 L399.2,249.1 L400.9,246.5 L402.6,243.9 L402.6,243.8 L404.3,241.0 L406.0,238.0 L407.6,235.2 L407.7,234.9 L409.4,231.7 L411.1,228.4 L412.6,225.4 L412.8,224.9 L414.5,221.2 L416.2,217.4 L417.6,214.3 L417.9,213.5 L419.6,209.5 L421.3,205.4 L423.0,201.0 L423.4,200.0 L424.7,196.0 L426.2,191.2 L426.4,190.5 L428.1,184.8 L429.8,179.1 L431.5,173.6 L431.7,173.1 L433.2,168.7 L434.9,164.0 L436.3,160.0 L436.6,159.0 L438.3,153.7 L440.0,148.0 L440.1,147.7 L441.7,141.4 L443.4,134.4 L443.9,132.6 L445.1,128.1 L446.8,122.2 L447.6,119.8 L448.5,117.1 L450.2,112.9 L450.6,112.3 L451.9,110.8 L452.9,110.2 L453.6,110.0 L455.3,109.6 L455.8,109.4 L457.0,108.9 L458.7,107.7 L459.4,107.1 L460.4,105.3 L462.1,100.8 L462.1,100.8 L463.8,96.1 L465.5,92.2 L465.8,91.8 L467.2,90.3 L468.9,89.0 L469.8,88.8 L470.6,88.9 L472.3,89.9 L473.9,91.3 L474.0,91.4 L475.7,93.9 L477.4,97.5 L478.0,98.9 L479.1,102.1 L480.5,106.8 L480.8,107.7 L482.5,112.8 L483.0,114.3 L484.2,117.7 L485.5,121.4 L485.9,122.5 L487.6,127.1 L488.0,128.2 L489.3,131.6 L490.5,134.6 L491.0,135.8 L492.7,139.9 L493.0,140.6 L494.4,143.7 L495.5,146.2 L496.1,147.4 L497.8,150.9 L498.0,151.3 L499.5,154.2 L500.5,156.1 L501.2,157.3 L502.9,160.1 L503.0,160.3 L504.6,162.9 L506.3,165.6 L507.0,166.6 L508.0,167.8 L509.7,169.6 L511.0,170.8 L511.4,171.1 L513.1,172.5 L514.8,173.5 L515.0,173.6 L516.5,174.3 L518.2,174.9 L519.0,175.1 L519.9,175.2 L521.6,175.4 L523.0,175.4 L523.3,175.4 L525.0,175.2 L526.7,174.8 L527.0,174.7 L528.4,174.3 L530.1,173.6 L531.0,173.2 L531.8,172.9 L533.5,172.0 L535.0,171.1 L535.2,171.0 L536.9,169.9 L538.6,168.7 L539.0,168.4 L540.3,167.5 L542.0,166.3 L543.0,165.5 L543.7,165.0 L545.4,163.6 L547.0,162.4 L547.1,162.3 L548.8,161.0 L550.5,159.6 L551.0,159.2 L552.2,158.3 L553.9,156.9 L555.0,156.0 L555.6,155.5 L557.3,154.1 L559.0,152.7 L559.0,152.7 L560.7,151.3 L562.3,149.9 L563.0,149.3 L564.0,148.4 L565.7,147.0 L567.0,145.9 L567.4,145.5 L569.1,144.1 L570.8,142.6 L571.0,142.5 L572.5,141.2 L574.2,139.7 L575.0,139.0 L575.9,138.2 L577.6,136.7 L579.0,135.5 L579.3,135.2 L581.0,133.7 L582.7,132.2 L583.0,131.9 L584.4,130.7 L586.1,129.1 L587.0,128.3 L587.8,127.6 L589.5,126.1 L591.0,124.7 L591.2,124.5 L592.9,123.0 L594.6,121.4 L595.0,121.1 L596.3,119.9 L598.0,118.3 L599.0,117.4 L599.7,116.8 L601.4,115.2 L603.0,113.7 L603.1,113.6 L604.8,112.1 L606.5,110.5 L607.0,110.0 L608.2,108.9 L609.9,107.3 L611.0,106.3 L611.6,105.8 L613.3,104.2 L615.0,102.6 L615.0,102.6 L616.7,101.0 L618.4,99.5 L619.0,98.9 L620.1,97.9 L621.8,96.4 L623.0,95.3 L623.5,94.8 L625.2,93.3 L626.9,91.8 L627.0,91.7 L628.6,90.3 L630.3,88.8 L631.0,88.2 L632.0,87.3 L633.7,85.8 L635.0,84.7 L635.4,84.4 L637.1,83.0 L638.8,81.6 L639.0,81.4 L640.5,80.2 L642.2,78.8 L643.0,78.2 L643.9,77.5 L645.6,76.2 L647.0,75.2 L647.3,74.9 L649.0,73.7 L650.7,72.5 L651.0,72.3 L652.4,71.3 L654.1,70.2 L655.0,69.6 L655.8,69.1 L657.5,68.0 L659.0,67.1 L659.2,67.0 L660.9,66.0 L662.6,65.0 L663.0,64.8 L664.3,64.1 L666.0,63.2 L667.0,62.7 L667.7,62.4 L669.4,61.5 L671.0,60.8 L671.1,60.8 L672.8,60.0 L674.5,59.3 L675.0,59.1 L676.2,58.7 L677.9,58.0 L679.0,57.6 L679.6,57.4 L681.3,56.9 L683.0,56.4 L683.0,56.4 L684.7,55.9 L686.4,55.4 L687.0,55.3 L688.1,55.0 L689.8,54.6 L691.0,54.4 L691.5,54.3 L693.2,54.0 L694.9,53.7 L695.0,53.7 L696.6,53.5 L698.3,53.3 L699.0,53.2 L700.0,53.2 L701.7,53.0 L703.0,53.0 L703.4,52.9 L705.1,52.9 L706.8,52.9 L707.0,52.9 L708.5,52.9 L710.2,52.9 L711.0,53.0 L711.9,53.0 L713.6,53.2 L715.0,53.3 L715.3,53.3 L717.0,53.5 L718.7,53.7 L719.0,53.8 L720.4,54.0 L722.1,54.3 L723.0,54.5 L723.8,54.6 L725.5,55.0 L727.0,55.4 L727.2,55.4 L728.9,55.9 L730.6,56.3 L731.0,56.5 L732.2,56.8 L733.9,57.4 L735.0,57.7 L735.6,58.0 L737.3,58.6 L739.0,59.2 L739.0,59.2 L740.7,59.9 L742.4,60.6 L743.0,60.9 L744.1,61.4 L745.8,62.1 L747.0,62.7 L747.5,62.9 L749.2,63.8 L750.9,64.6 L751.0,64.7 L752.6,65.5 L754.3,66.4 L755.0,66.8 L756.0,67.4 L757.7,68.3 L759.0,69.0 L759.4,69.3 L761.1,70.3 L762.8,71.3 L763.0,71.4 L764.5,72.3 L766.2,73.3 L767.0,73.8 L767.9,74.4 L769.6,75.4 L771.0,76.3 L771.3,76.5 L773.0,77.5 L774.7,78.6 L775.0,78.8 L776.4,79.7 L778.1,80.8 L779.0,81.3 L779.8,81.8 L781.5,82.9 L783.0,83.8 L783.2,84.0 L784.9,85.1 L786.6,86.1 L787.0,86.4 L788.3,87.2 L790.0,88.2 L791.0,88.8 L791.7,89.3 L793.4,90.3 L795.0,91.2 L795.1,91.3 L796.8,92.3 L798.5,93.3 L799.0,93.6 L800.2,94.3 L801.9,95.2 L803.0,95.8 L803.6,96.2 L805.3,97.1 L807.0,98.0 L807.0,98.0 L808.7,98.8 L810.4,99.7 L811.0,99.9 L812.1,100.5 L813.8,101.2 L815.0,101.8 L815.5,102.0 L815.5,143.3 L815.0,143.0 L813.8,142.4 L812.1,141.6 L811.0,141.0 L810.4,140.7 L808.7,139.8 L807.0,138.8 L807.0,138.8 L805.3,137.9 L803.6,136.9 L803.0,136.5 L801.9,135.9 L800.2,134.8 L799.0,134.1 L798.5,133.8 L796.8,132.7 L795.1,131.6 L795.0,131.5 L793.4,130.5 L791.7,129.3 L791.0,128.9 L790.0,128.2 L788.3,127.1 L787.0,126.2 L786.6,125.9 L784.9,124.8 L783.2,123.6 L783.0,123.5 L781.5,122.5 L779.8,121.3 L779.0,120.7 L778.1,120.1 L776.4,119.0 L775.0,118.0 L774.7,117.8 L773.0,116.7 L771.3,115.6 L771.0,115.3 L769.6,114.4 L767.9,113.3 L767.0,112.7 L766.2,112.2 L764.5,111.1 L763.0,110.2 L762.8,110.1 L761.1,109.0 L759.4,108.0 L759.0,107.7 L757.7,107.0 L756.0,106.0 L755.0,105.4 L754.3,105.1 L752.6,104.1 L751.0,103.3 L750.9,103.2 L749.2,102.4 L747.5,101.5 L747.0,101.3 L745.8,100.7 L744.1,100.0 L743.0,99.5 L742.4,99.3 L740.7,98.6 L739.0,97.9 L739.0,97.9 L737.3,97.3 L735.6,96.8 L735.0,96.6 L733.9,96.2 L732.2,95.8 L731.0,95.4 L730.6,95.3 L728.9,94.9 L727.2,94.5 L727.0,94.5 L725.5,94.2 L723.8,93.8 L723.0,93.7 L722.1,93.6 L720.4,93.3 L719.0,93.1 L718.7,93.1 L717.0,92.9 L715.3,92.7 L715.0,92.6 L713.6,92.5 L711.9,92.4 L711.0,92.3 L710.2,92.2 L708.5,92.1 L707.0,92.1 L706.8,92.1 L705.1,92.0 L703.4,92.0 L703.0,92.0 L701.7,91.9 L700.0,91.9 L699.0,91.9 L698.3,91.9 L696.6,92.0 L695.0,92.1 L694.9,92.1 L693.2,92.1 L691.5,92.2 L691.0,92.3 L689.8,92.4 L688.1,92.5 L687.0,92.6 L686.4,92.7 L684.7,92.9 L683.0,93.1 L683.0,93.1 L681.3,93.4 L679.6,93.7 L679.0,93.8 L677.9,94.0 L676.2,94.3 L675.0,94.6 L674.5,94.7 L672.8,95.1 L671.1,95.5 L671.0,95.5 L669.4,95.9 L667.7,96.4 L667.0,96.6 L666.0,96.9 L664.3,97.4 L663.0,97.8 L662.6,97.9 L660.9,98.5 L659.2,99.1 L659.0,99.2 L657.5,99.8 L655.8,100.4 L655.0,100.8 L654.1,101.1 L652.4,101.9 L651.0,102.5 L650.7,102.6 L649.0,103.4 L647.3,104.2 L647.0,104.4 L645.6,105.1 L643.9,106.0 L643.0,106.5 L642.2,106.9 L640.5,107.8 L639.0,108.7 L638.8,108.8 L637.1,109.8 L635.4,110.9 L635.0,111.1 L633.7,112.0 L632.0,113.1 L631.0,113.8 L630.3,114.2 L628.6,115.4 L627.0,116.6 L626.9,116.6 L625.2,117.9 L623.5,119.1 L623.0,119.5 L621.8,120.4 L620.1,121.8 L619.0,122.7 L618.4,123.1 L616.7,124.5 L615.0,125.9 L615.0,126.0 L613.3,127.4 L611.6,128.8 L611.0,129.3 L609.9,130.3 L608.2,131.8 L607.0,132.8 L606.5,133.3 L604.8,134.8 L603.1,136.3 L603.0,136.4 L601.4,137.8 L599.7,139.4 L599.0,140.0 L598.0,140.9 L596.3,142.5 L595.0,143.7 L594.6,144.0 L592.9,145.6 L591.2,147.1 L591.0,147.4 L589.5,148.7 L587.8,150.3 L587.0,151.0 L586.1,151.8 L584.4,153.3 L583.0,154.6 L582.7,154.9 L581.0,156.4 L579.3,157.9 L579.0,158.2 L577.6,159.4 L575.9,160.9 L575.0,161.7 L574.2,162.4 L572.5,163.9 L571.0,165.2 L570.8,165.3 L569.1,166.7 L567.4,168.1 L567.0,168.5 L565.7,169.5 L564.0,170.8 L563.0,171.7 L562.3,172.2 L560.7,173.5 L559.0,174.7 L559.0,174.8 L557.3,176.1 L555.6,177.3 L555.0,177.7 L553.9,178.5 L552.2,179.7 L551.0,180.6 L550.5,180.9 L548.8,182.1 L547.1,183.3 L547.0,183.3 L545.4,184.4 L543.7,185.5 L543.0,185.9 L542.0,186.6 L540.3,187.7 L539.0,188.5 L538.6,188.7 L536.9,189.8 L535.2,190.8 L535.0,190.9 L533.5,191.8 L531.8,192.7 L531.0,193.2 L530.1,193.7 L528.4,194.6 L527.0,195.4 L526.7,195.6 L525.0,196.5 L523.3,197.3 L523.0,197.5 L521.6,198.2 L519.9,199.1 L519.0,199.5 L518.2,199.9 L516.5,200.7 L515.0,201.4 L514.8,201.5 L513.1,202.3 L511.4,203.0 L511.0,203.2 L509.7,203.7 L508.0,204.4 L507.0,204.9 L506.3,205.3 L504.6,206.4 L502.9,207.6 L501.5,208.4 L501.2,208.5 L499.5,209.1 L499.0,209.3 L497.8,209.6 L496.5,210.0 L496.1,210.1 L494.4,210.4 L494.0,210.4 L492.7,210.5 L491.5,210.6 L491.0,210.6 L489.3,210.5 L489.0,210.5 L487.6,210.2 L486.5,209.9 L485.9,209.8 L484.2,209.1 L484.0,209.0 L482.5,208.1 L481.5,207.5 L480.8,207.0 L479.1,205.5 L479.0,205.4 L477.4,203.8 L476.5,202.7 L475.7,201.7 L474.0,199.3 L474.0,199.3 L472.3,196.6 L471.5,195.2 L470.6,193.5 L469.0,190.2 L468.9,189.9 L467.2,185.5 L467.1,185.2 L465.5,179.5 L464.9,177.1 L463.8,172.6 L462.6,168.0 L462.1,166.4 L461.0,163.9 L460.4,164.6 L460.0,165.5 L458.7,169.3 L458.5,170.0 L457.0,175.0 L457.0,175.0 L455.3,182.2 L453.6,189.9 L453.3,191.2 L451.9,196.5 L451.0,200.0 L450.2,203.1 L448.5,209.9 L447.0,215.7 L446.8,216.4 L445.1,222.4 L443.4,228.0 L441.7,233.2 L441.5,233.8 L440.0,237.8 L438.3,242.0 L436.6,245.9 L435.5,248.3 L434.9,249.5 L433.2,252.9 L431.5,256.0 L429.8,259.0 L428.3,261.5 L428.1,261.8 L426.4,264.4 L424.7,266.9 L423.0,269.2 L421.3,271.5 L419.6,273.7 L417.9,275.9 L417.6,276.4 L416.2,278.1 L414.5,280.3 L412.8,282.3 L412.6,282.6 L411.1,284.4 L409.4,286.5 L407.7,288.5 L407.6,288.6 L406.0,290.5 L404.3,292.4 L402.6,294.4 L402.6,294.4 L400.9,296.3 L399.2,298.2 L397.6,300.0 L397.5,300.0 L395.8,301.9 L394.1,303.7 L392.6,305.3 L392.4,305.5 L390.8,307.3 L389.1,309.0 L387.6,310.5 L387.4,310.8 L385.7,312.5 L384.0,314.2 L382.6,315.5 L382.3,315.9 L380.6,317.5 L378.9,319.2 L377.6,320.4 L377.2,320.9 L375.5,322.5 L373.8,324.1 L372.6,325.2 L372.1,325.7 L370.4,327.3 L368.7,328.9 L367.6,329.9 L367.0,330.5 L365.3,332.1 L363.6,333.6 L362.6,334.5 L361.9,335.2 L360.2,336.8 L358.5,338.3 L357.6,339.1 L356.8,339.9 L355.1,341.5 L353.4,343.0 L352.6,343.8 L351.7,344.6 L350.0,346.2 L348.3,347.8 L347.6,348.5 L346.6,349.5 L344.9,351.1 L343.2,352.8 L342.6,353.4 L341.5,354.5 L339.8,356.2 L338.1,357.9 L337.6,358.4 L336.4,359.7 L334.7,361.5 L333.0,363.4 L332.6,363.8 L331.3,365.3 L329.6,367.2 L327.9,369.1 L327.6,369.5 L326.2,371.1 L324.5,373.2 L322.8,375.3 L322.6,375.5 L321.1,377.3 L319.4,379.5 L317.7,381.6 L317.6,381.7 L316.0,383.8 L314.3,386.0 L312.6,388.1 L312.6,388.1 L310.9,390.3 L309.2,392.5 L307.6,394.6 L307.5,394.7 L305.8,396.9 L304.1,399.1 L302.6,401.1 L302.4,401.3 L300.7,403.5 L299.0,405.7 L297.6,407.4 L297.3,407.8 L295.6,409.9 L293.9,412.0 L292.6,413.6 L292.2,414.1 L290.5,416.1 L288.8,418.1 L287.6,419.5 L287.1,420.1 L285.4,422.0 L283.7,423.9 L282.6,425.1 L282.0,425.7 L280.3,427.5 L278.6,429.2 L277.6,430.1 L276.9,430.8 L275.2,432.3 L273.5,433.8 L272.6,434.6 L271.8,435.2 L270.1,436.5 L268.4,437.7 L267.6,438.2 L266.7,438.8 L265.0,439.8 L263.3,440.7 L262.6,441.1 L261.6,441.5 L259.9,442.2 L258.2,442.7 L257.6,442.9 L256.5,443.1 L254.8,443.5 L253.1,443.7 L252.6,443.7 L251.4,443.7 L249.7,443.6 L248.0,443.5 L247.6,443.5 L246.3,443.4 L244.6,443.0 L242.9,442.5 L242.6,442.4 L241.2,442.0 L239.5,441.3 L237.8,440.6 L237.6,440.5 L236.1,439.8 L234.4,438.8 L232.7,437.8 L232.6,437.7 L231.0,436.7 L229.3,435.5 L227.6,434.3 L227.6,434.2 L225.9,432.9 L224.2,431.5 L222.6,430.0 L222.5,430.0 L220.9,428.4 L219.2,426.8 L217.6,425.2 L217.5,425.1 L215.8,423.3 L214.1,421.4 L212.6,419.8 L212.4,419.5 L210.7,417.5 L209.0,415.5 L207.6,413.8 L207.3,413.3 L205.6,411.1 L203.9,408.9 L202.6,407.2 L202.2,406.6 L200.5,404.2 L198.8,401.7 L197.6,400.0 L197.1,399.2 L195.4,396.7 L193.7,394.0 L192.6,392.3 L192.0,391.3 L190.3,388.6 L188.6,385.7 L187.6,384.1 L186.9,382.9 L185.2,379.9 L183.5,376.9 L182.6,375.3 L181.8,373.8 L180.1,370.7 L178.4,367.6 L177.6,366.1 L176.7,364.4 L175.0,361.1 L173.3,357.9 L172.6,356.6 L171.6,354.6 L169.9,351.3 L168.2,347.9 L167.6,346.8 L166.5,344.6 L164.8,341.3 L163.1,337.9 L162.6,337.0 L161.4,334.6 L159.7,331.2 L158.0,327.9 L157.6,327.2 L156.3,324.6 L154.6,321.3 L152.9,318.0 L152.6,317.4 L151.2,314.6 L149.5,311.3 L147.8,307.9 L147.6,307.5 L146.1,304.5 L144.4,301.0 L142.7,297.5 L142.6,297.3 L141.0,293.9 L139.3,290.3 L137.6,286.6 Z" fill="#ff0000" stroke="#ff0000" stroke-width="1.35" fill-opacity="0.1" stroke-opacity="0.142" stroke-linejoin="round"/>
<path d="M137.6,187.7 L139.3,191.8 L141.0,195.9 L142.6,199.7 L142.7,199.9 L144.4,203.9 L146.1,207.8 L147.6,211.3 L147.8,211.7 L149.5,215.6 L151.2,219.4 L152.6,222.5 L152.9,223.2 L154.6,226.9 L156.3,230.7 L157.6,233.5 L158.0,234.4 L159.7,238.0 L161.4,241.7 L162.6,244.3 L163.1,245.3 L164.8,248.9 L166.5,252.5 L167.6,254.8 L168.2,256.0 L169.9,259.6 L171.6,263.1 L172.6,265.2 L173.3,266.6 L175.0,270.1 L176.7,273.6 L177.6,275.5 L178.4,277.1 L180.1,280.5 L181.8,283.9 L182.6,285.6 L183.5,287.3 L185.2,290.7 L186.9,294.0 L187.6,295.4 L188.6,297.3 L190.3,300.6 L192.0,303.8 L192.6,305.0 L193.7,306.9 L195.4,310.1 L197.1,313.2 L197.6,314.1 L198.8,316.2 L200.5,319.2 L202.2,322.1 L202.6,322.9 L203.9,325.0 L205.6,327.8 L207.3,330.6 L207.6,331.1 L209.0,333.2 L210.7,335.8 L212.4,338.2 L212.6,338.6 L214.1,340.6 L215.8,342.9 L217.5,345.1 L217.6,345.3 L219.2,347.2 L220.9,349.2 L222.5,351.1 L222.6,351.1 L224.2,352.9 L225.9,354.6 L227.6,356.2 L227.6,356.2 L229.3,357.8 L231.0,359.3 L232.6,360.5 L232.7,360.6 L234.4,361.9 L236.1,363.1 L237.6,364.0 L237.8,364.2 L239.5,365.2 L241.2,366.1 L242.6,366.8 L242.9,367.0 L244.6,367.7 L246.3,368.4 L247.6,368.9 L248.0,369.0 L249.7,369.5 L251.4,370.0 L252.6,370.2 L253.1,370.3 L254.8,370.6 L256.5,370.7 L257.6,370.8 L258.2,370.8 L259.9,370.8 L261.6,370.7 L262.6,370.7 L263.3,370.7 L265.0,370.4 L266.7,370.1 L267.6,369.9 L268.4,369.8 L270.1,369.3 L271.8,368.8 L272.6,368.6 L273.5,368.3 L275.2,367.6 L276.9,366.9 L277.6,366.6 L278.6,366.2 L280.3,365.4 L282.0,364.5 L282.6,364.2 L283.7,363.6 L285.4,362.6 L287.1,361.6 L287.6,361.3 L288.8,360.5 L290.5,359.4 L292.2,358.2 L292.6,358.0 L293.9,357.0 L295.6,355.8 L297.3,354.5 L297.6,354.3 L299.0,353.2 L300.7,351.9 L302.4,350.5 L302.6,350.4 L304.1,349.2 L305.8,347.8 L307.5,346.3 L307.6,346.3 L309.2,344.9 L310.9,343.5 L312.6,342.0 L312.6,342.0 L314.3,340.6 L316.0,339.1 L317.6,337.7 L317.7,337.6 L319.4,336.2 L321.1,334.7 L322.6,333.4 L322.8,333.2 L324.5,331.7 L326.2,330.2 L327.6,328.9 L327.9,328.7 L329.6,327.2 L331.3,325.7 L332.6,324.5 L333.0,324.1 L334.7,322.6 L336.4,321.1 L337.6,320.0 L338.1,319.6 L339.8,318.0 L341.5,316.5 L342.6,315.5 L343.2,315.0 L344.9,313.4 L346.6,311.9 L347.6,311.0 L348.3,310.4 L350.0,308.8 L351.7,307.3 L352.6,306.5 L353.4,305.8 L355.1,304.2 L356.8,302.7 L357.6,302.0 L358.5,301.2 L360.2,299.7 L361.9,298.2 L362.6,297.5 L363.6,296.7 L365.3,295.1 L367.0,293.6 L367.6,293.1 L368.7,292.1 L370.4,290.6 L372.1,289.2 L372.6,288.7 L373.8,287.7 L375.5,286.2 L377.2,284.7 L377.6,284.4 L378.9,283.3 L380.6,281.8 L382.3,280.4 L382.6,280.1 L384.0,279.0 L385.7,277.5 L387.4,276.1 L387.6,275.9 L389.1,274.7 L390.8,273.3 L392.4,271.9 L392.6,271.8 L394.1,270.5 L395.8,269.2 L397.5,267.8 L397.6,267.8 L399.2,266.5 L400.9,265.1 L402.6,263.8 L402.6,263.8 L404.3,262.4 L406.0,261.1 L407.6,259.9 L407.7,259.8 L409.4,258.5 L411.1,257.2 L412.6,256.1 L412.8,255.9 L414.5,254.6 L416.2,253.3 L417.6,252.3 L417.9,252.0 L419.6,250.8 L421.3,249.5 L422.6,248.5 L423.0,248.2 L424.7,247.0 L426.4,245.7 L427.6,244.9 L428.1,244.5 L429.8,243.2 L431.5,242.0 L432.6,241.2 L433.2,240.7 L434.9,239.5 L436.6,238.3 L437.6,237.6 L438.3,237.1 L440.0,235.8 L441.7,234.6 L442.6,234.0 L443.4,233.4 L445.1,232.2 L446.8,231.0 L447.6,230.4 L448.5,229.8 L450.2,228.6 L451.9,227.4 L452.6,226.9 L453.6,226.2 L455.3,225.0 L457.0,223.8 L457.6,223.3 L458.7,222.6 L460.4,221.4 L462.1,220.2 L462.6,219.8 L463.8,219.0 L465.5,217.8 L467.2,216.6 L467.6,216.3 L468.9,215.4 L470.6,214.2 L472.3,213.0 L472.6,212.8 L474.0,211.8 L475.7,210.6 L477.4,209.4 L477.6,209.2 L479.1,208.2 L480.8,207.0 L482.5,205.8 L482.6,205.7 L484.2,204.5 L485.9,203.3 L487.6,202.1 L487.6,202.1 L489.3,200.9 L491.0,199.7 L492.6,198.5 L492.7,198.5 L494.4,197.2 L496.1,196.0 L497.6,194.9 L497.8,194.8 L499.5,193.6 L501.2,192.3 L502.6,191.3 L502.9,191.1 L504.6,189.9 L506.3,188.6 L507.6,187.6 L508.0,187.4 L509.7,186.1 L511.4,184.9 L512.6,184.0 L513.1,183.6 L514.8,182.4 L516.5,181.1 L517.6,180.3 L518.2,179.8 L519.9,178.6 L521.6,177.3 L522.6,176.5 L523.3,176.0 L525.0,174.7 L526.7,173.4 L527.6,172.7 L528.4,172.1 L530.1,170.8 L531.8,169.5 L532.6,168.9 L533.5,168.2 L535.2,166.9 L536.9,165.6 L537.6,165.0 L538.6,164.3 L540.3,163.0 L542.0,161.6 L542.6,161.1 L543.7,160.3 L545.4,159.0 L547.1,157.6 L547.6,157.2 L548.8,156.3 L550.5,154.9 L552.2,153.6 L552.6,153.2 L553.9,152.2 L555.6,150.8 L557.3,149.4 L557.6,149.2 L559.0,148.1 L560.7,146.7 L562.3,145.3 L562.6,145.1 L564.0,143.9 L565.7,142.5 L567.4,141.1 L567.6,141.0 L569.1,139.7 L570.8,138.3 L572.5,136.8 L572.6,136.8 L574.2,135.4 L575.9,134.0 L577.6,132.6 L577.6,132.6 L579.3,131.1 L581.0,129.7 L582.6,128.4 L582.7,128.3 L584.4,126.8 L586.1,125.4 L587.6,124.1 L587.8,123.9 L589.5,122.4 L591.2,121.0 L592.6,119.8 L592.9,119.5 L594.6,118.0 L596.3,116.6 L597.6,115.5 L598.0,115.1 L599.7,113.6 L601.4,112.1 L602.6,111.1 L603.1,110.7 L604.8,109.2 L606.5,107.7 L607.6,106.7 L608.2,106.2 L609.9,104.7 L611.6,103.2 L612.6,102.3 L613.3,101.7 L615.0,100.2 L616.7,98.7 L617.6,97.9 L618.4,97.2 L620.1,95.7 L621.8,94.2 L622.6,93.5 L623.5,92.8 L625.2,91.3 L626.9,89.8 L627.6,89.2 L628.6,88.4 L630.3,87.0 L632.0,85.5 L632.6,85.1 L633.7,84.1 L635.4,82.8 L637.1,81.4 L637.6,81.0 L638.8,80.1 L640.5,78.7 L642.2,77.4 L642.6,77.1 L643.9,76.1 L645.6,74.9 L647.3,73.7 L647.6,73.5 L649.0,72.5 L650.7,71.3 L652.4,70.2 L652.6,70.0 L654.1,69.1 L655.8,68.0 L657.5,66.9 L657.6,66.9 L659.2,65.9 L660.9,65.0 L662.6,64.0 L662.6,64.0 L664.3,63.1 L666.0,62.3 L667.6,61.5 L667.7,61.4 L669.4,60.6 L671.1,59.9 L672.6,59.2 L672.8,59.2 L674.5,58.5 L676.2,57.8 L677.6,57.3 L677.9,57.2 L679.6,56.6 L681.3,56.0 L682.6,55.6 L683.0,55.5 L684.7,55.1 L686.4,54.6 L687.6,54.3 L688.1,54.2 L689.8,53.8 L691.5,53.5 L692.6,53.3 L693.2,53.2 L694.9,52.9 L696.6,52.7 L697.6,52.5 L698.3,52.5 L700.0,52.3 L701.7,52.2 L702.6,52.1 L703.4,52.1 L705.1,52.1 L706.8,52.0 L707.6,52.0 L708.5,52.0 L710.2,52.1 L711.9,52.2 L712.6,52.2 L713.6,52.3 L715.3,52.4 L717.0,52.6 L717.6,52.7 L718.7,52.9 L720.4,53.1 L722.1,53.4 L722.6,53.5 L723.8,53.8 L725.5,54.1 L727.2,54.5 L727.6,54.6 L728.9,55.0 L730.6,55.4 L732.2,56.0 L732.6,56.1 L733.9,56.5 L735.6,57.1 L737.3,57.7 L737.6,57.8 L739.0,58.4 L740.7,59.1 L742.4,59.8 L742.6,59.9 L744.1,60.5 L745.8,61.3 L747.5,62.2 L747.6,62.2 L749.2,63.0 L750.9,63.9 L752.6,64.8 L752.6,64.8 L754.3,65.7 L756.0,66.7 L757.6,67.6 L757.7,67.7 L759.4,68.6 L761.1,69.7 L762.6,70.5 L762.8,70.7 L764.5,71.7 L766.2,72.8 L767.6,73.6 L767.9,73.8 L769.6,74.9 L771.3,76.0 L772.6,76.8 L773.0,77.1 L774.7,78.2 L776.4,79.3 L777.6,80.0 L778.1,80.4 L779.8,81.5 L781.5,82.6 L782.6,83.3 L783.2,83.7 L784.9,84.8 L786.6,85.8 L787.6,86.5 L788.3,86.9 L790.0,88.0 L791.7,89.0 L792.6,89.6 L793.4,90.1 L795.1,91.1 L796.8,92.1 L797.6,92.6 L798.5,93.1 L800.2,94.1 L801.9,95.1 L802.6,95.5 L803.6,96.0 L805.3,96.9 L807.0,97.8 L807.6,98.1 L808.7,98.7 L810.4,99.5 L812.1,100.3 L812.6,100.5 L813.8,101.1 L815.5,101.8 L815.5,143.5 L813.8,143.3 L812.6,143.2 L812.1,143.1 L810.4,142.7 L808.7,142.3 L807.6,142.0 L807.0,141.8 L805.3,141.3 L803.6,140.6 L802.6,140.2 L801.9,139.9 L800.2,139.1 L798.5,138.3 L797.6,137.9 L796.8,137.5 L795.1,136.5 L793.4,135.5 L792.6,135.1 L791.7,134.5 L790.0,133.5 L788.3,132.4 L787.6,131.9 L786.6,131.2 L784.9,130.1 L783.2,128.9 L782.6,128.5 L781.5,127.7 L779.8,126.5 L778.1,125.2 L777.6,124.8 L776.4,124.0 L774.7,122.7 L773.0,121.4 L772.6,121.1 L771.3,120.2 L769.6,118.9 L767.9,117.7 L767.6,117.4 L766.2,116.4 L764.5,115.2 L762.8,114.0 L762.6,113.8 L761.1,112.8 L759.4,111.6 L757.7,110.5 L757.6,110.4 L756.0,109.4 L754.3,108.3 L752.6,107.3 L752.6,107.2 L750.9,106.3 L749.2,105.3 L747.6,104.5 L747.5,104.4 L745.8,103.6 L744.1,102.8 L742.6,102.2 L742.4,102.1 L740.7,101.4 L739.0,100.8 L737.6,100.4 L737.3,100.3 L735.6,99.9 L733.9,99.5 L732.6,99.2 L732.2,99.1 L730.6,98.8 L728.9,98.6 L727.6,98.4 L727.2,98.4 L725.5,98.2 L723.8,98.0 L722.6,98.0 L722.1,97.9 L720.4,97.8 L718.7,97.8 L717.6,97.7 L717.0,97.7 L715.3,97.7 L713.6,97.6 L712.6,97.6 L711.9,97.6 L710.2,97.5 L708.5,97.5 L707.6,97.5 L706.8,97.4 L705.1,97.4 L703.4,97.3 L702.6,97.3 L701.7,97.3 L700.0,97.2 L698.3,97.2 L697.6,97.1 L696.6,97.1 L694.9,97.1 L693.2,97.0 L692.6,97.0 L691.5,97.0 L689.8,96.9 L688.1,96.9 L687.6,96.9 L686.4,96.9 L684.7,96.9 L683.0,97.0 L682.6,97.0 L681.3,97.0 L679.6,97.0 L677.9,97.1 L677.6,97.1 L676.2,97.2 L674.5,97.3 L672.8,97.5 L672.6,97.5 L671.1,97.6 L669.4,97.8 L667.7,98.1 L667.6,98.1 L666.0,98.3 L664.3,98.6 L662.6,98.9 L662.6,98.9 L660.9,99.3 L659.2,99.6 L657.6,100.0 L657.5,100.1 L655.8,100.5 L654.1,101.0 L652.6,101.5 L652.4,101.5 L650.7,102.1 L649.0,102.7 L647.6,103.3 L647.3,103.4 L645.6,104.1 L643.9,104.8 L642.6,105.4 L642.2,105.5 L640.5,106.3 L638.8,107.2 L637.6,107.8 L637.1,108.0 L635.4,108.9 L633.7,109.8 L632.6,110.5 L632.0,110.8 L630.3,111.8 L628.6,112.8 L627.6,113.4 L626.9,113.8 L625.2,114.9 L623.5,116.0 L622.6,116.6 L621.8,117.2 L620.1,118.3 L618.4,119.5 L617.6,120.1 L616.7,120.7 L615.0,122.0 L613.3,123.3 L612.6,123.8 L611.6,124.6 L609.9,125.9 L608.2,127.2 L607.6,127.7 L606.5,128.6 L604.8,130.0 L603.1,131.4 L602.6,131.8 L601.4,132.8 L599.7,134.3 L598.0,135.7 L597.6,136.1 L596.3,137.2 L594.6,138.7 L592.9,140.2 L592.6,140.5 L591.2,141.8 L589.5,143.3 L587.8,144.9 L587.6,145.1 L586.1,146.4 L584.4,148.0 L582.7,149.6 L582.6,149.7 L581.0,151.1 L579.3,152.7 L577.6,154.3 L577.6,154.4 L575.9,155.9 L574.2,157.5 L572.6,159.1 L572.5,159.1 L570.8,160.7 L569.1,162.3 L567.6,163.7 L567.4,163.9 L565.7,165.5 L564.0,167.1 L562.6,168.4 L562.3,168.6 L560.7,170.2 L559.0,171.8 L557.6,173.0 L557.3,173.3 L555.6,174.9 L553.9,176.4 L552.6,177.5 L552.2,177.9 L550.5,179.4 L548.8,180.9 L547.6,181.9 L547.1,182.3 L545.4,183.8 L543.7,185.2 L542.6,186.1 L542.0,186.6 L540.3,188.0 L538.6,189.4 L537.6,190.2 L536.9,190.8 L535.2,192.1 L533.5,193.5 L532.6,194.2 L531.8,194.8 L530.1,196.1 L528.4,197.4 L527.6,198.0 L526.7,198.7 L525.0,200.0 L523.3,201.3 L522.6,201.8 L521.6,202.6 L519.9,203.8 L518.2,205.1 L517.6,205.5 L516.5,206.4 L514.8,207.6 L513.1,208.9 L512.6,209.2 L511.4,210.1 L509.7,211.4 L508.0,212.6 L507.6,212.9 L506.3,213.9 L504.6,215.1 L502.9,216.4 L502.6,216.6 L501.2,217.7 L499.5,218.9 L497.8,220.2 L497.6,220.3 L496.1,221.5 L494.4,222.7 L492.7,224.0 L492.6,224.1 L491.0,225.3 L489.3,226.6 L487.6,228.0 L487.6,228.0 L485.9,229.3 L484.2,230.6 L482.6,231.9 L482.5,232.0 L480.8,233.4 L479.1,234.8 L477.6,236.0 L477.4,236.2 L475.7,237.6 L474.0,239.0 L472.6,240.2 L472.3,240.4 L470.6,241.9 L468.9,243.4 L467.6,244.5 L467.2,244.8 L465.5,246.3 L463.8,247.8 L462.6,248.9 L462.1,249.3 L460.4,250.9 L458.7,252.4 L457.6,253.4 L457.0,253.9 L455.3,255.5 L453.6,257.1 L452.6,258.0 L451.9,258.6 L450.2,260.2 L448.5,261.8 L447.6,262.7 L446.8,263.4 L445.1,265.0 L443.4,266.7 L442.6,267.4 L441.7,268.3 L440.0,269.9 L438.3,271.6 L437.6,272.3 L436.6,273.2 L434.9,274.9 L433.2,276.5 L432.6,277.1 L431.5,278.2 L429.8,279.9 L428.1,281.6 L427.6,282.1 L426.4,283.2 L424.7,284.9 L423.0,286.6 L422.6,287.1 L421.3,288.3 L419.6,290.0 L417.9,291.7 L417.6,292.1 L416.2,293.5 L414.5,295.2 L412.8,296.9 L412.6,297.1 L411.1,298.6 L409.4,300.3 L407.7,302.1 L407.6,302.2 L406.0,303.8 L404.3,305.5 L402.6,307.2 L402.6,307.3 L400.9,309.0 L399.2,310.7 L397.6,312.4 L397.5,312.4 L395.8,314.2 L394.1,315.9 L392.6,317.5 L392.4,317.6 L390.8,319.3 L389.1,321.1 L387.6,322.6 L387.4,322.8 L385.7,324.5 L384.0,326.2 L382.6,327.6 L382.3,328.0 L380.6,329.7 L378.9,331.4 L377.6,332.7 L377.2,333.1 L375.5,334.8 L373.8,336.6 L372.6,337.7 L372.1,338.3 L370.4,340.0 L368.7,341.7 L367.6,342.8 L367.0,343.4 L365.3,345.1 L363.6,346.9 L362.6,347.8 L361.9,348.6 L360.2,350.3 L358.5,352.0 L357.6,352.9 L356.8,353.7 L355.1,355.5 L353.4,357.2 L352.6,358.0 L351.7,358.9 L350.0,360.7 L348.3,362.4 L347.6,363.1 L346.6,364.2 L344.9,365.9 L343.2,367.7 L342.6,368.3 L341.5,369.4 L339.8,371.2 L338.1,373.0 L337.6,373.5 L336.4,374.8 L334.7,376.6 L333.0,378.3 L332.6,378.8 L331.3,380.1 L329.6,382.0 L327.9,383.8 L327.6,384.1 L326.2,385.6 L324.5,387.4 L322.8,389.3 L322.6,389.5 L321.1,391.1 L319.4,393.0 L317.7,394.8 L317.6,394.9 L316.0,396.7 L314.3,398.6 L312.6,400.5 L312.6,400.5 L310.9,402.4 L309.2,404.3 L307.6,406.1 L307.5,406.2 L305.8,408.2 L304.1,410.1 L302.6,411.8 L302.4,412.0 L300.7,414.0 L299.0,415.9 L297.6,417.5 L297.3,417.8 L295.6,419.7 L293.9,421.6 L292.6,423.0 L292.2,423.5 L290.5,425.3 L288.8,427.1 L287.6,428.4 L287.1,428.9 L285.4,430.7 L283.7,432.4 L282.6,433.6 L282.0,434.1 L280.3,435.8 L278.6,437.4 L277.6,438.4 L276.9,439.0 L275.2,440.5 L273.5,442.0 L272.6,442.8 L271.8,443.4 L270.1,444.7 L268.4,446.0 L267.6,446.6 L266.7,447.3 L265.0,448.4 L263.3,449.5 L262.6,450.0 L261.6,450.5 L259.9,451.5 L258.2,452.4 L257.6,452.7 L256.5,453.1 L254.8,453.8 L253.1,454.4 L252.6,454.6 L251.4,454.9 L249.7,455.4 L248.0,455.7 L247.6,455.7 L246.3,455.8 L244.6,455.9 L242.9,455.9 L242.6,455.9 L241.2,455.8 L239.5,455.6 L237.8,455.2 L237.6,455.1 L236.1,454.7 L234.4,454.1 L232.7,453.4 L232.6,453.3 L231.0,452.5 L229.3,451.5 L227.6,450.5 L227.6,450.4 L225.9,449.3 L224.2,448.0 L222.6,446.6 L222.5,446.6 L220.9,445.0 L219.2,443.4 L217.6,441.8 L217.5,441.7 L215.8,439.8 L214.1,437.8 L212.6,436.1 L212.4,435.8 L210.7,433.6 L209.0,431.3 L207.6,429.5 L207.3,429.0 L205.6,426.6 L203.9,424.1 L202.6,422.2 L202.2,421.5 L200.5,419.0 L198.8,416.4 L197.6,414.6 L197.1,413.8 L195.4,411.1 L193.7,408.5 L192.6,406.8 L192.0,405.8 L190.3,403.0 L188.6,400.2 L187.6,398.5 L186.9,397.3 L185.2,394.3 L183.5,391.2 L182.6,389.6 L181.8,388.0 L180.1,384.8 L178.4,381.4 L177.6,379.9 L176.7,378.0 L175.0,374.6 L173.3,371.1 L172.6,369.7 L171.6,367.6 L169.9,364.0 L168.2,360.4 L167.6,359.2 L166.5,356.8 L164.8,353.2 L163.1,349.6 L162.6,348.6 L161.4,346.0 L159.7,342.3 L158.0,338.7 L157.6,337.8 L156.3,335.0 L154.6,331.4 L152.9,327.8 L152.6,327.2 L151.2,324.2 L149.5,320.6 L147.8,317.0 L147.6,316.6 L146.1,313.4 L144.4,309.9 L142.7,306.4 L142.6,306.2 L141.0,302.9 L139.3,299.4 L137.6,296.0 Z" fill="#0000ff" stroke="#0000ff" stroke-width="1.35" fill-opacity="0.1" stroke-opacity="0.142" stroke-linejoin="round"/>
<path d="M137.50,365.4 H141.74 V376.2 H150.21 V394.7 H158.69 V415.5 H167.16 V434.5 H175.64 V454.0 H184.11 V472.2 H192.59 V478.4 H201.06 V493.9 H209.54 V502.8 H218.01 V511.0 H226.49 V517.8 H234.96 V522.7 H243.44 V525.6 H251.91 V523.3 H260.39 V528.3 H268.86 V533.7 H277.34 V544.0 H285.81 V542.0 H294.29 V542.7 H302.76 V560.6 H311.24 V557.9 H319.71 V565.1 H328.19 V600.0 H336.66 V600.0 H345.14 V600.0 H353.61 V600.0 H362.09 V507.7 H370.56 V511.7 H379.04 V600.0 H387.51" stroke="#000" stroke-width="2.0" fill="none" stroke-linejoin="miter"/>
<circle cx="188.3" cy="316.6" r="5.8" fill="#000"/>
<circle cx="196.8" cy="337.5" r="5.8" fill="#000"/>
<circle cx="205.3" cy="357.7" r="5.8" fill="#000"/>
<circle cx="213.8" cy="385.3" r="5.8" fill="#000"/>
<circle cx="222.2" cy="399.5" r="5.8" fill="#000"/>
<circle cx="230.7" cy="392.0" r="5.8" fill="#000"/>
<circle cx="239.2" cy="408.4" r="5.8" fill="#000"/>
<circle cx="247.7" cy="423.1" r="5.8" fill="#000"/>
<circle cx="256.1" cy="407.4" r="5.8" fill="#000"/>
<circle cx="264.6" cy="406.5" r="5.8" fill="#000"/>
<circle cx="273.1" cy="409.6" r="5.8" fill="#000"/>
<circle cx="281.6" cy="391.2" r="5.8" fill="#000"/>
<circle cx="290.0" cy="387.2" r="5.8" fill="#000"/>
<circle cx="298.5" cy="388.6" r="5.8" fill="#000"/>
<circle cx="307.0" cy="354.6" r="5.8" fill="#000"/>
<circle cx="315.5" cy="364.1" r="5.8" fill="#000"/>
<circle cx="323.9" cy="372.9" r="5.8" fill="#000"/>
<path d="M422.3,225.8 L426.1,231.1 L422.3,236.4 L418.5,231.1 Z" stroke="#000" stroke-width="1.35" fill="none"/>
<path d="M459.5,130.6 L463.3,135.9 L459.5,141.2 L455.7,135.9 Z" stroke="#000" stroke-width="1.35" fill="none"/>
<path d="M520.5,177.7 L524.3,183.0 L520.5,188.3 L516.7,183.0 Z" stroke="#000" stroke-width="1.35" fill="none"/>
<path d="M608.6,112.8 L612.4,118.1 L608.6,123.4 L604.8,118.1 Z" stroke="#000" stroke-width="1.35" fill="none"/>
<path d="M662.8,76.6 L666.6,81.9 L662.8,87.2 L659.0,81.9 Z" stroke="#000" stroke-width="1.35" fill="none"/>
<path d="M761.0,79.9 L764.8,85.2 L761.0,90.5 L757.2,85.2 Z" stroke="#000" stroke-width="1.35" fill="none"/>
</g>
<rect x="137.5" y="14" width="678" height="563" fill="none" stroke="#000" stroke-width="1.4"/>
<path d="M538.3,358 V387.6 M533,358 H543.6 M533,387.6 H543.6" stroke="#000" stroke-width="1.35" fill="none"/><circle cx="538.3" cy="372.8" r="5.8"/>
<path d="M678.9,358 V387.6 M673.8,358 H684 M673.8,387.6 H684" stroke="#000" stroke-width="1.35" fill="none"/><path d="M678.9,367.5 L682.7,372.8 L678.9,378.1 L675.1,372.8 Z" stroke="#000" stroke-width="1.35" fill="none"/>
<rect x="508" y="405.3" width="60" height="20" fill="#f00" stroke="#f00" stroke-width="1.3" fill-opacity="0.3" stroke-opacity="0.3"/>
<rect x="649" y="405.3" width="60" height="20" fill="#00f" stroke="#00f" stroke-width="1.3" fill-opacity="0.3" stroke-opacity="0.3"/>
<rect x="508" y="444.3" width="60" height="20" fill="#f00" stroke="#f00" stroke-width="1.3" fill-opacity="0.2" stroke-opacity="0.2"/>
<rect x="649" y="444.3" width="60" height="20" fill="#00f" stroke="#00f" stroke-width="1.3" fill-opacity="0.2" stroke-opacity="0.2"/>
<rect x="508" y="483.3" width="60" height="20" fill="#f00" stroke="#f00" stroke-width="1.3" fill-opacity="0.1" stroke-opacity="0.1"/>
<rect x="649" y="483.3" width="60" height="20" fill="#00f" stroke="#00f" stroke-width="1.3" fill-opacity="0.1" stroke-opacity="0.1"/>
<path d="M508,531.5 H568" stroke="#000" stroke-width="2.0"/>
<g opacity="0.999">
<text x="58.8" y="27.8" font-family="Liberation Serif, serif" font-size="33.5" text-anchor="start" textLength="33.6" lengthAdjust="spacingAndGlyphs" stroke="#fff" stroke-width="0.2" paint-order="fill stroke" >10</text>
<path d="M94,9.2 H109" stroke="#000" stroke-width="1.2"/>
<text x="111.6" y="15.1" font-family="Liberation Serif, serif" font-size="21.5" text-anchor="start" textLength="12.5" lengthAdjust="spacingAndGlyphs" stroke="#fff" stroke-width="0.2" paint-order="fill stroke" >6</text>
<text x="58.8" y="215.5" font-family="Liberation Serif, serif" font-size="33.5" text-anchor="start" textLength="33.6" lengthAdjust="spacingAndGlyphs" stroke="#fff" stroke-width="0.2" paint-order="fill stroke" >10</text>
<path d="M94,196.9 H109" stroke="#000" stroke-width="1.2"/>
<text x="111.6" y="202.8" font-family="Liberation Serif, serif" font-size="21.5" text-anchor="start" textLength="12.5" lengthAdjust="spacingAndGlyphs" stroke="#fff" stroke-width="0.2" paint-order="fill stroke" >7</text>
<text x="58.8" y="403.1" font-family="Liberation Serif, serif" font-size="33.5" text-anchor="start" textLength="33.6" lengthAdjust="spacingAndGlyphs" stroke="#fff" stroke-width="0.2" paint-order="fill stroke" >10</text>
<path d="M94,384.5 H109" stroke="#000" stroke-width="1.2"/>
<text x="111.6" y="390.4" font-family="Liberation Serif, serif" font-size="21.5" text-anchor="start" textLength="12.5" lengthAdjust="spacingAndGlyphs" stroke="#fff" stroke-width="0.2" paint-order="fill stroke" >8</text>
<text x="58.8" y="590.8" font-family="Liberation Serif, serif" font-size="33.5" text-anchor="start" textLength="33.6" lengthAdjust="spacingAndGlyphs" stroke="#fff" stroke-width="0.2" paint-order="fill stroke" >10</text>
<path d="M94,572.2 H109" stroke="#000" stroke-width="1.2"/>
<text x="111.6" y="578.1" font-family="Liberation Serif, serif" font-size="21.5" text-anchor="start" textLength="12.5" lengthAdjust="spacingAndGlyphs" stroke="#fff" stroke-width="0.2" paint-order="fill stroke" >9</text>
<text x="137.5" y="608.8" font-family="Liberation Serif, serif" font-size="33.5" text-anchor="middle" textLength="17.0" lengthAdjust="spacingAndGlyphs" stroke="#fff" stroke-width="0.2" paint-order="fill stroke" >0</text>
<text x="307.0" y="608.8" font-family="Liberation Serif, serif" font-size="33.5" text-anchor="middle" textLength="17.0" lengthAdjust="spacingAndGlyphs" stroke="#fff" stroke-width="0.2" paint-order="fill stroke" >5</text>
<text x="476.5" y="608.8" font-family="Liberation Serif, serif" font-size="33.5" text-anchor="middle" textLength="34.0" lengthAdjust="spacingAndGlyphs" stroke="#fff" stroke-width="0.2" paint-order="fill stroke" >10</text>
<text x="646.0" y="608.8" font-family="Liberation Serif, serif" font-size="33.5" text-anchor="middle" textLength="34.0" lengthAdjust="spacingAndGlyphs" stroke="#fff" stroke-width="0.2" paint-order="fill stroke" >15</text>
<text x="815.5" y="608.8" font-family="Liberation Serif, serif" font-size="33.5" text-anchor="middle" textLength="34.0" lengthAdjust="spacingAndGlyphs" stroke="#fff" stroke-width="0.2" paint-order="fill stroke" >20</text>
<text x="339.5" y="653.5" font-family="Liberation Serif, serif" font-size="32" text-anchor="start" textLength="68.5" lengthAdjust="spacingAndGlyphs" stroke="#fff" stroke-width="0.2" paint-order="fill stroke" ><tspan font-style="italic">γ</tspan>-ray</text>
<text x="425" y="653.5" font-family="Liberation Serif, serif" font-size="32" text-anchor="start" textLength="90" lengthAdjust="spacingAndGlyphs" stroke="#fff" stroke-width="0.2" paint-order="fill stroke" >energy</text>
<text x="536.8" y="653.5" font-family="Liberation Serif, serif" font-size="32" text-anchor="start" textLength="68.3" lengthAdjust="spacingAndGlyphs" stroke="#fff" stroke-width="0.2" paint-order="fill stroke" >MeV</text>
<path d="M535.6,630.9 H531.3 V661.3 H535.6 M604.8,630.9 H609.1 V661.3 H604.8" stroke="#000" stroke-width="1.35" fill="none"/>
<text transform="translate(29.5,534) rotate(-90)" font-family="Liberation Serif, serif" font-size="32" textLength="73.5" lengthAdjust="spacingAndGlyphs" stroke="#fff" stroke-width="0.2" paint-order="fill stroke"><tspan font-style="italic">γ</tspan>-ray</text>
<text transform="translate(29.5,452) rotate(-90)" font-family="Liberation Serif, serif" font-size="32" textLength="128" lengthAdjust="spacingAndGlyphs" stroke="#fff" stroke-width="0.2" paint-order="fill stroke">strength</text>
<text transform="translate(29.5,314.5) rotate(-90)" font-family="Liberation Serif, serif" font-size="32" textLength="111" lengthAdjust="spacingAndGlyphs" stroke="#fff" stroke-width="0.2" paint-order="fill stroke">function</text>
<text transform="translate(29.5,182.5) rotate(-90)" font-family="Liberation Serif, serif" font-size="32" textLength="100" lengthAdjust="spacingAndGlyphs" stroke="#fff" stroke-width="0.2" paint-order="fill stroke">1/MeV</text>
<path d="M6.2,184 V188.1 H37 V184 M6.2,68.7 V64.7 H37 V68.7" stroke="#000" stroke-width="1.35" fill="none"/>
<text transform="translate(16.6,83) rotate(-90)" font-family="Liberation Serif, serif" font-size="21" textLength="11.5" lengthAdjust="spacingAndGlyphs" stroke="#fff" stroke-width="0.2" paint-order="fill stroke">3</text>
<text x="576.5" y="381.8" font-family="Liberation Serif, serif" font-size="32" text-anchor="start" textLength="64" lengthAdjust="spacingAndGlyphs" stroke="#fff" stroke-width="0.2" paint-order="fill stroke" >Exp.</text>
<text x="716" y="369.8" font-family="Liberation Serif, serif" font-size="21.5" text-anchor="start" textLength="25" lengthAdjust="spacingAndGlyphs" stroke="#fff" stroke-width="0.2" paint-order="fill stroke" >68</text>
<text x="744" y="381.8" font-family="Liberation Serif, serif" font-size="32" text-anchor="start" textLength="33" lengthAdjust="spacingAndGlyphs" stroke="#fff" stroke-width="0.2" paint-order="fill stroke" >Ni</text>
<path d="M577.6,411.3 H600.1 M588.9,402.1 V420.5 M577.6,422.5 H600.1" stroke="#000" stroke-width="1.3" fill="none"/>
<text x="603.3" y="423" font-family="Liberation Serif, serif" font-size="32" text-anchor="start" textLength="16.6" lengthAdjust="spacingAndGlyphs" stroke="#fff" stroke-width="0.2" paint-order="fill stroke" >1</text>
<text x="620" y="423" font-family="Liberation Serif, serif" font-size="32" text-anchor="start" textLength="16.5" lengthAdjust="spacingAndGlyphs" stroke="#fff" stroke-width="0.2" paint-order="fill stroke" ><tspan font-style="italic">σ</tspan></text>
<path d="M717.9,411.3 H740.4 M729.1,402.1 V420.5 M717.9,422.5 H740.4" stroke="#000" stroke-width="1.3" fill="none"/>
<text x="743.5999999999999" y="423" font-family="Liberation Serif, serif" font-size="32" text-anchor="start" textLength="16.6" lengthAdjust="spacingAndGlyphs" stroke="#fff" stroke-width="0.2" paint-order="fill stroke" >1</text>
<text x="760.3" y="423" font-family="Liberation Serif, serif" font-size="32" text-anchor="start" textLength="16.5" lengthAdjust="spacingAndGlyphs" stroke="#fff" stroke-width="0.2" paint-order="fill stroke" ><tspan font-style="italic">σ</tspan></text>
<path d="M577.6,450.3 H600.1 M588.9,441.1 V459.5 M577.6,461.5 H600.1" stroke="#000" stroke-width="1.3" fill="none"/>
<text x="603.3" y="462" font-family="Liberation Serif, serif" font-size="32" text-anchor="start" textLength="16.6" lengthAdjust="spacingAndGlyphs" stroke="#fff" stroke-width="0.2" paint-order="fill stroke" >2</text>
<text x="620" y="462" font-family="Liberation Serif, serif" font-size="32" text-anchor="start" textLength="16.5" lengthAdjust="spacingAndGlyphs" stroke="#fff" stroke-width="0.2" paint-order="fill stroke" ><tspan font-style="italic">σ</tspan></text>
<path d="M717.9,450.3 H740.4 M729.1,441.1 V459.5 M717.9,461.5 H740.4" stroke="#000" stroke-width="1.3" fill="none"/>
<text x="743.5999999999999" y="462" font-family="Liberation Serif, serif" font-size="32" text-anchor="start" textLength="16.6" lengthAdjust="spacingAndGlyphs" stroke="#fff" stroke-width="0.2" paint-order="fill stroke" >2</text>
<text x="760.3" y="462" font-family="Liberation Serif, serif" font-size="32" text-anchor="start" textLength="16.5" lengthAdjust="spacingAndGlyphs" stroke="#fff" stroke-width="0.2" paint-order="fill stroke" ><tspan font-style="italic">σ</tspan></text>
<path d="M577.6,489.3 H600.1 M588.9,480.1 V498.5 M577.6,500.5 H600.1" stroke="#000" stroke-width="1.3" fill="none"/>
<text x="603.3" y="501" font-family="Liberation Serif, serif" font-size="32" text-anchor="start" textLength="16.6" lengthAdjust="spacingAndGlyphs" stroke="#fff" stroke-width="0.2" paint-order="fill stroke" >3</text>
<text x="620" y="501" font-family="Liberation Serif, serif" font-size="32" text-anchor="start" textLength="16.5" lengthAdjust="spacingAndGlyphs" stroke="#fff" stroke-width="0.2" paint-order="fill stroke" ><tspan font-style="italic">σ</tspan></text>
<path d="M717.9,489.3 H740.4 M729.1,480.1 V498.5 M717.9,500.5 H740.4" stroke="#000" stroke-width="1.3" fill="none"/>
<text x="743.5999999999999" y="501" font-family="Liberation Serif, serif" font-size="32" text-anchor="start" textLength="16.6" lengthAdjust="spacingAndGlyphs" stroke="#fff" stroke-width="0.2" paint-order="fill stroke" >3</text>
<text x="760.3" y="501" font-family="Liberation Serif, serif" font-size="32" text-anchor="start" textLength="16.5" lengthAdjust="spacingAndGlyphs" stroke="#fff" stroke-width="0.2" paint-order="fill stroke" ><tspan font-style="italic">σ</tspan></text>
<text x="577" y="540" font-family="Liberation Serif, serif" font-size="32" text-anchor="start" textLength="47" lengthAdjust="spacingAndGlyphs" stroke="#fff" stroke-width="0.2" paint-order="fill stroke" >SM</text>
</g>
</svg>
</body></html>
